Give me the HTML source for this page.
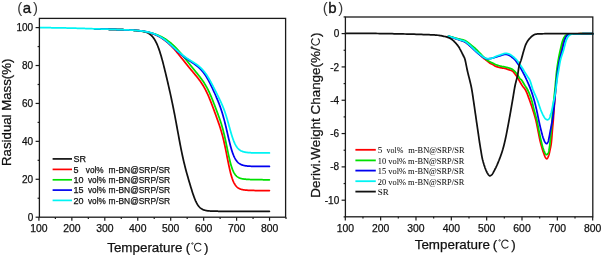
<!DOCTYPE html>
<html><head><meta charset="utf-8"><style>html,body{margin:0;padding:0;background:#fff;overflow:hidden}svg{display:block;filter:blur(0.3px)}</style></head><body>
<svg width="602" height="255" viewBox="0 0 602 255">
<style>text{font-family:"Liberation Sans",sans-serif;fill:#111;stroke:#111;stroke-width:0.25px}.tl{font-size:10px}.xt{font-size:10.4px}.lg{font-size:9px}.lr{font-family:"Liberation Serif",serif;font-size:9px;stroke-width:0.05px}.ax{font-size:13.4px}.pl{font-size:15px}.pp{fill:#3a3a3a;stroke:none}.pa{stroke-width:0.35px}</style>
<rect width="602" height="255" fill="#fff"/>
<path d="M95.01,28.82 L95.34,28.83 L95.67,28.84 L96.00,28.85 L96.32,28.86 L96.65,28.87 L96.98,28.88 L97.31,28.89 L97.64,28.91 L97.97,28.92 L98.30,28.93 L98.63,28.94 L98.96,28.95 L99.29,28.96 L99.61,28.97 L99.94,28.98 L100.27,28.99 L100.60,29.00 L100.93,29.01 L101.26,29.02 L101.59,29.03 L101.92,29.04 L102.25,29.05 L102.58,29.06 L102.91,29.07 L103.23,29.08 L103.56,29.09 L103.89,29.10 L104.22,29.11 L104.55,29.13 L104.88,29.14 L105.21,29.15 L105.54,29.16 L105.87,29.17 L106.20,29.18 L106.52,29.19 L106.85,29.20 L107.18,29.21 L107.51,29.22 L107.84,29.23 L108.17,29.24 L108.50,29.25 L108.83,29.26 L109.16,29.27 L109.49,29.28 L109.81,29.29 L110.14,29.30 L110.47,29.31 L110.80,29.32 L111.13,29.33 L111.46,29.34 L111.79,29.35 L112.12,29.36 L112.45,29.37 L112.78,29.38 L113.11,29.39 L113.43,29.40 L113.76,29.41 L114.09,29.42 L114.42,29.44 L114.75,29.45 L115.08,29.46 L115.41,29.47 L115.74,29.48 L116.07,29.49 L116.40,29.50 L116.72,29.51 L117.05,29.52 L117.38,29.53 L117.71,29.54 L118.04,29.55 L118.37,29.56 L118.70,29.58 L119.03,29.59 L119.36,29.60 L119.69,29.61 L120.02,29.62 L120.34,29.63 L120.67,29.64 L121.00,29.66 L121.33,29.67 L121.66,29.68 L121.99,29.69 L122.32,29.70 L122.65,29.72 L122.98,29.73 L123.31,29.74 L123.63,29.75 L123.96,29.77 L124.29,29.78 L124.62,29.79 L124.95,29.81 L125.28,29.82 L125.61,29.83 L125.94,29.85 L126.27,29.86 L126.60,29.88 L126.93,29.89 L127.25,29.91 L127.58,29.92 L127.91,29.94 L128.24,29.96 L128.57,29.97 L128.90,29.99 L129.23,30.01 L129.56,30.02 L129.89,30.04 L130.22,30.06 L130.54,30.08 L130.87,30.10 L131.20,30.11 L131.53,30.13 L131.86,30.15 L132.19,30.17 L132.52,30.19 L132.85,30.21 L133.18,30.23 L133.51,30.25 L133.83,30.28 L134.16,30.30 L134.49,30.32 L134.82,30.34 L135.15,30.36 L135.48,30.39 L135.81,30.41 L136.14,30.44 L136.47,30.46 L136.80,30.49 L137.13,30.52 L137.45,30.54 L137.78,30.57 L138.11,30.60 L138.44,30.63 L138.77,30.67 L139.10,30.70 L139.43,30.74 L139.76,30.77 L140.09,30.81 L140.42,30.86 L140.74,30.90 L141.07,30.94 L141.40,30.99 L141.73,31.05 L142.06,31.10 L142.39,31.16 L142.72,31.22 L143.05,31.29 L143.38,31.36 L143.71,31.43 L144.04,31.51 L144.36,31.60 L144.69,31.69 L145.02,31.78 L145.35,31.89 L145.68,32.00 L146.01,32.11 L146.34,32.24 L146.67,32.37 L147.00,32.51 L147.33,32.67 L147.65,32.83 L147.98,33.00 L148.31,33.18 L148.64,33.37 L148.97,33.58 L149.30,33.79 L149.63,34.02 L149.96,34.27 L150.29,34.52 L150.62,34.79 L150.95,35.08 L151.27,35.38 L151.60,35.70 L151.93,36.04 L152.26,36.40 L152.59,36.78 L152.92,37.18 L153.25,37.61 L153.58,38.05 L153.91,38.52 L154.24,39.02 L154.56,39.54 L154.89,40.08 L155.22,40.65 L155.55,41.26 L155.88,41.88 L156.21,42.54 L156.54,43.23 L156.87,43.95 L157.20,44.70 L157.53,45.48 L157.85,46.30 L158.18,47.14 L158.51,48.02 L158.84,48.92 L159.17,49.86 L159.50,50.83 L159.83,51.83 L160.16,52.86 L160.49,53.92 L160.82,55.01 L161.15,56.12 L161.47,57.27 L161.80,58.43 L162.13,59.62 L162.46,60.84 L162.79,62.07 L163.12,63.33 L163.45,64.60 L163.78,65.89 L164.11,67.20 L164.44,68.52 L164.76,69.85 L165.09,71.20 L165.42,72.55 L165.75,73.92 L166.08,75.30 L166.41,76.68 L166.74,78.07 L167.07,79.47 L167.40,80.88 L167.73,82.30 L168.06,83.72 L168.38,85.15 L168.71,86.59 L169.04,88.03 L169.37,89.49 L169.70,90.95 L170.03,92.43 L170.36,93.92 L170.69,95.42 L171.02,96.93 L171.35,98.46 L171.67,100.01 L172.00,101.57 L172.33,103.15 L172.66,104.74 L172.99,106.35 L173.32,107.99 L173.65,109.64 L173.98,111.30 L174.31,112.99 L174.64,114.69 L174.97,116.41 L175.29,118.15 L175.62,119.90 L175.95,121.66 L176.28,123.44 L176.61,125.22 L176.94,127.01 L177.27,128.80 L177.60,130.60 L177.93,132.39 L178.26,134.19 L178.58,135.97 L178.91,137.75 L179.24,139.52 L179.57,141.27 L179.90,143.00 L180.23,144.72 L180.56,146.41 L180.89,148.08 L181.22,149.73 L181.55,151.35 L181.87,152.94 L182.20,154.50 L182.53,156.03 L182.86,157.53 L183.19,159.00 L183.52,160.44 L183.85,161.85 L184.18,163.23 L184.51,164.58 L184.84,165.90 L185.17,167.20 L185.49,168.48 L185.82,169.73 L186.15,170.96 L186.48,172.17 L186.81,173.36 L187.14,174.54 L187.47,175.70 L187.80,176.86 L188.13,178.00 L188.46,179.13 L188.78,180.26 L189.11,181.38 L189.44,182.49 L189.77,183.60 L190.10,184.71 L190.43,185.80 L190.76,186.89 L191.09,187.97 L191.42,189.04 L191.75,190.10 L192.08,191.14 L192.40,192.17 L192.73,193.17 L193.06,194.16 L193.39,195.12 L193.72,196.06 L194.05,196.97 L194.38,197.85 L194.71,198.70 L195.04,199.51 L195.37,200.29 L195.69,201.04 L196.02,201.75 L196.35,202.42 L196.68,203.05 L197.01,203.65 L197.34,204.22 L197.67,204.75 L198.00,205.25 L198.33,205.71 L198.66,206.14 L198.99,206.55 L199.31,206.92 L199.64,207.27 L199.97,207.59 L200.30,207.89 L200.63,208.16 L200.96,208.42 L201.29,208.65 L201.62,208.87 L201.95,209.07 L202.28,209.25 L202.60,209.42 L202.93,209.57 L203.26,209.71 L203.59,209.84 L203.92,209.96 L204.25,210.07 L204.58,210.17 L204.91,210.27 L205.24,210.35 L205.57,210.43 L205.89,210.50 L206.22,210.56 L206.55,210.62 L206.88,210.68 L207.21,210.73 L207.54,210.77 L207.87,210.82 L208.20,210.85 L208.53,210.89 L208.86,210.92 L209.19,210.95 L209.51,210.98 L209.84,211.00 L210.17,211.02 L210.50,211.05 L210.83,211.06 L211.16,211.08 L211.49,211.10 L211.82,211.11 L212.15,211.13 L212.48,211.14 L212.80,211.15 L213.13,211.16 L213.46,211.17 L213.79,211.18 L214.12,211.19 L214.45,211.20 L214.78,211.20 L215.11,211.21 L215.44,211.21 L215.77,211.22 L216.10,211.22 L216.42,211.23 L216.75,211.23 L217.08,211.24 L217.41,211.24 L217.74,211.24 L218.07,211.25 L218.40,211.25 L218.73,211.25 L219.06,211.26 L219.39,211.26 L219.71,211.26 L220.04,211.26 L220.37,211.26 L220.70,211.26 L221.03,211.27 L221.36,211.27 L221.69,211.27 L222.02,211.27 L222.35,211.27 L222.68,211.27 L223.01,211.27 L223.33,211.27 L223.66,211.28 L223.99,211.28 L224.32,211.28 L224.65,211.28 L224.98,211.28 L225.31,211.28 L225.64,211.28 L225.97,211.28 L226.30,211.28 L226.62,211.28 L226.95,211.28 L227.28,211.28 L227.61,211.28 L227.94,211.28 L228.27,211.28 L228.60,211.28 L228.93,211.28 L229.26,211.28 L229.59,211.28 L229.92,211.28 L230.24,211.28 L230.57,211.28 L230.90,211.28 L231.23,211.28 L231.56,211.28 L231.89,211.28 L232.22,211.28 L232.55,211.29 L232.88,211.29 L233.21,211.29 L233.53,211.29 L233.86,211.29 L234.19,211.29 L234.52,211.29 L234.85,211.29 L235.18,211.29 L235.51,211.29 L235.84,211.29 L236.17,211.29 L236.50,211.29 L236.82,211.29 L237.15,211.29 L237.48,211.29 L237.81,211.29 L238.14,211.29 L238.47,211.29 L238.80,211.29 L239.13,211.29 L239.46,211.29 L239.79,211.29 L240.12,211.29 L240.44,211.29 L240.77,211.29 L241.10,211.29 L241.43,211.29 L241.76,211.29 L242.09,211.29 L242.42,211.29 L242.75,211.29 L243.08,211.29 L243.41,211.29 L243.73,211.29 L244.06,211.29 L244.39,211.29 L244.72,211.29 L245.05,211.29 L245.38,211.29 L245.71,211.29 L246.04,211.29 L246.37,211.29 L246.70,211.29 L247.03,211.29 L247.35,211.29 L247.68,211.29 L248.01,211.29 L248.34,211.29 L248.67,211.29 L249.00,211.29 L249.33,211.29 L249.66,211.29 L249.99,211.29 L250.32,211.29 L250.64,211.29 L250.97,211.29 L251.30,211.29 L251.63,211.29 L251.96,211.29 L252.29,211.29 L252.62,211.29 L252.95,211.29 L253.28,211.29 L253.61,211.29 L253.94,211.29 L254.26,211.29 L254.59,211.29 L254.92,211.29 L255.25,211.29 L255.58,211.29 L255.91,211.29 L256.24,211.29 L256.57,211.29 L256.90,211.29 L257.23,211.29 L257.55,211.29 L257.88,211.29 L258.21,211.29 L258.54,211.29 L258.87,211.29 L259.20,211.29 L259.53,211.29 L259.86,211.29 L260.19,211.29 L260.52,211.29 L260.84,211.29 L261.17,211.29 L261.50,211.29 L261.83,211.29 L262.16,211.29 L262.49,211.29 L262.82,211.29 L263.15,211.29 L263.48,211.29 L263.81,211.29 L264.14,211.29 L264.46,211.29 L264.79,211.29 L265.12,211.29 L265.45,211.29 L265.78,211.29 L266.11,211.29 L266.44,211.29 L266.77,211.29 L267.10,211.29 L267.43,211.29 L267.75,211.29 L268.08,211.29 L268.41,211.29 L268.74,211.29 L269.07,211.29 L269.40,211.29" fill="none" stroke="#111" stroke-width="1.75" stroke-linejoin="round" stroke-linecap="round"/>
<path d="M95.01,28.82 L95.34,28.83 L95.67,28.84 L96.00,28.85 L96.32,28.86 L96.65,28.87 L96.98,28.88 L97.31,28.89 L97.64,28.91 L97.97,28.92 L98.30,28.93 L98.63,28.94 L98.96,28.95 L99.29,28.96 L99.61,28.97 L99.94,28.98 L100.27,28.99 L100.60,29.00 L100.93,29.01 L101.26,29.02 L101.59,29.03 L101.92,29.04 L102.25,29.05 L102.58,29.06 L102.91,29.07 L103.23,29.08 L103.56,29.09 L103.89,29.10 L104.22,29.11 L104.55,29.13 L104.88,29.14 L105.21,29.15 L105.54,29.16 L105.87,29.17 L106.20,29.18 L106.52,29.19 L106.85,29.20 L107.18,29.21 L107.51,29.22 L107.84,29.23 L108.17,29.24 L108.50,29.25 L108.83,29.26 L109.16,29.27 L109.49,29.28 L109.81,29.29 L110.14,29.30 L110.47,29.31 L110.80,29.32 L111.13,29.33 L111.46,29.34 L111.79,29.35 L112.12,29.36 L112.45,29.37 L112.78,29.38 L113.11,29.39 L113.43,29.40 L113.76,29.41 L114.09,29.42 L114.42,29.44 L114.75,29.45 L115.08,29.46 L115.41,29.47 L115.74,29.48 L116.07,29.49 L116.40,29.50 L116.72,29.51 L117.05,29.52 L117.38,29.53 L117.71,29.54 L118.04,29.55 L118.37,29.56 L118.70,29.58 L119.03,29.59 L119.36,29.60 L119.69,29.61 L120.02,29.62 L120.34,29.63 L120.67,29.64 L121.00,29.66 L121.33,29.67 L121.66,29.68 L121.99,29.69 L122.32,29.70 L122.65,29.72 L122.98,29.73 L123.31,29.74 L123.63,29.75 L123.96,29.77 L124.29,29.78 L124.62,29.79 L124.95,29.81 L125.28,29.82 L125.61,29.83 L125.94,29.85 L126.27,29.86 L126.60,29.87 L126.93,29.89 L127.25,29.90 L127.58,29.92 L127.91,29.93 L128.24,29.95 L128.57,29.96 L128.90,29.98 L129.23,29.99 L129.56,30.01 L129.89,30.02 L130.22,30.04 L130.54,30.05 L130.87,30.07 L131.20,30.09 L131.53,30.11 L131.86,30.13 L132.19,30.14 L132.52,30.16 L132.85,30.18 L133.18,30.20 L133.51,30.23 L133.83,30.25 L134.16,30.27 L134.49,30.29 L134.82,30.32 L135.15,30.34 L135.48,30.37 L135.81,30.40 L136.14,30.42 L136.47,30.45 L136.80,30.48 L137.13,30.51 L137.45,30.54 L137.78,30.58 L138.11,30.61 L138.44,30.65 L138.77,30.68 L139.10,30.72 L139.43,30.76 L139.76,30.80 L140.09,30.84 L140.42,30.88 L140.74,30.93 L141.07,30.97 L141.40,31.02 L141.73,31.07 L142.06,31.12 L142.39,31.17 L142.72,31.22 L143.05,31.27 L143.38,31.33 L143.71,31.39 L144.04,31.45 L144.36,31.51 L144.69,31.57 L145.02,31.63 L145.35,31.70 L145.68,31.76 L146.01,31.83 L146.34,31.90 L146.67,31.98 L147.00,32.05 L147.33,32.13 L147.65,32.20 L147.98,32.28 L148.31,32.36 L148.64,32.45 L148.97,32.53 L149.30,32.62 L149.63,32.71 L149.96,32.81 L150.29,32.90 L150.62,33.00 L150.95,33.10 L151.27,33.20 L151.60,33.31 L151.93,33.41 L152.26,33.52 L152.59,33.64 L152.92,33.75 L153.25,33.87 L153.58,33.99 L153.91,34.11 L154.24,34.24 L154.56,34.37 L154.89,34.51 L155.22,34.64 L155.55,34.78 L155.88,34.92 L156.21,35.07 L156.54,35.22 L156.87,35.37 L157.20,35.53 L157.53,35.69 L157.85,35.85 L158.18,36.02 L158.51,36.19 L158.84,36.36 L159.17,36.54 L159.50,36.72 L159.83,36.91 L160.16,37.09 L160.49,37.29 L160.82,37.49 L161.15,37.69 L161.47,37.89 L161.80,38.10 L162.13,38.32 L162.46,38.53 L162.79,38.76 L163.12,38.98 L163.45,39.21 L163.78,39.45 L164.11,39.69 L164.44,39.93 L164.76,40.18 L165.09,40.43 L165.42,40.69 L165.75,40.95 L166.08,41.21 L166.41,41.48 L166.74,41.76 L167.07,42.04 L167.40,42.32 L167.73,42.61 L168.06,42.90 L168.38,43.20 L168.71,43.50 L169.04,43.81 L169.37,44.12 L169.70,44.43 L170.03,44.75 L170.36,45.07 L170.69,45.40 L171.02,45.73 L171.35,46.06 L171.67,46.40 L172.00,46.75 L172.33,47.09 L172.66,47.44 L172.99,47.80 L173.32,48.16 L173.65,48.52 L173.98,48.88 L174.31,49.25 L174.64,49.62 L174.97,50.00 L175.29,50.38 L175.62,50.76 L175.95,51.14 L176.28,51.53 L176.61,51.92 L176.94,52.31 L177.27,52.71 L177.60,53.10 L177.93,53.50 L178.26,53.90 L178.58,54.30 L178.91,54.71 L179.24,55.12 L179.57,55.52 L179.90,55.93 L180.23,56.34 L180.56,56.75 L180.89,57.17 L181.22,57.58 L181.55,57.99 L181.87,58.41 L182.20,58.82 L182.53,59.24 L182.86,59.65 L183.19,60.07 L183.52,60.48 L183.85,60.90 L184.18,61.31 L184.51,61.73 L184.84,62.14 L185.17,62.56 L185.49,62.97 L185.82,63.38 L186.15,63.79 L186.48,64.20 L186.81,64.61 L187.14,65.02 L187.47,65.43 L187.80,65.83 L188.13,66.24 L188.46,66.64 L188.78,67.05 L189.11,67.45 L189.44,67.85 L189.77,68.25 L190.10,68.65 L190.43,69.04 L190.76,69.44 L191.09,69.84 L191.42,70.23 L191.75,70.63 L192.08,71.02 L192.40,71.41 L192.73,71.81 L193.06,72.20 L193.39,72.59 L193.72,72.99 L194.05,73.38 L194.38,73.77 L194.71,74.17 L195.04,74.56 L195.37,74.96 L195.69,75.36 L196.02,75.76 L196.35,76.16 L196.68,76.57 L197.01,76.98 L197.34,77.39 L197.67,77.80 L198.00,78.22 L198.33,78.64 L198.66,79.07 L198.99,79.50 L199.31,79.94 L199.64,80.39 L199.97,80.84 L200.30,81.30 L200.63,81.76 L200.96,82.23 L201.29,82.71 L201.62,83.21 L201.95,83.70 L202.28,84.21 L202.60,84.73 L202.93,85.26 L203.26,85.80 L203.59,86.36 L203.92,86.92 L204.25,87.50 L204.58,88.09 L204.91,88.69 L205.24,89.30 L205.57,89.93 L205.89,90.58 L206.22,91.23 L206.55,91.90 L206.88,92.59 L207.21,93.28 L207.54,94.00 L207.87,94.72 L208.20,95.46 L208.53,96.21 L208.86,96.98 L209.19,97.76 L209.51,98.55 L209.84,99.35 L210.17,100.16 L210.50,100.99 L210.83,101.82 L211.16,102.66 L211.49,103.51 L211.82,104.37 L212.15,105.24 L212.48,106.11 L212.80,106.99 L213.13,107.87 L213.46,108.76 L213.79,109.65 L214.12,110.55 L214.45,111.44 L214.78,112.34 L215.11,113.24 L215.44,114.15 L215.77,115.05 L216.10,115.96 L216.42,116.87 L216.75,117.78 L217.08,118.70 L217.41,119.62 L217.74,120.54 L218.07,121.47 L218.40,122.41 L218.73,123.36 L219.06,124.33 L219.39,125.30 L219.71,126.29 L220.04,127.30 L220.37,128.34 L220.70,129.39 L221.03,130.47 L221.36,131.58 L221.69,132.72 L222.02,133.90 L222.35,135.11 L222.68,136.36 L223.01,137.65 L223.33,138.98 L223.66,140.35 L223.99,141.77 L224.32,143.23 L224.65,144.72 L224.98,146.26 L225.31,147.83 L225.64,149.43 L225.97,151.05 L226.30,152.70 L226.62,154.37 L226.95,156.04 L227.28,157.71 L227.61,159.38 L227.94,161.03 L228.27,162.66 L228.60,164.26 L228.93,165.83 L229.26,167.35 L229.59,168.83 L229.92,170.25 L230.24,171.62 L230.57,172.93 L230.90,174.18 L231.23,175.36 L231.56,176.48 L231.89,177.54 L232.22,178.53 L232.55,179.45 L232.88,180.32 L233.21,181.13 L233.53,181.88 L233.86,182.57 L234.19,183.22 L234.52,183.81 L234.85,184.36 L235.18,184.87 L235.51,185.33 L235.84,185.76 L236.17,186.15 L236.50,186.51 L236.82,186.84 L237.15,187.14 L237.48,187.42 L237.81,187.68 L238.14,187.91 L238.47,188.12 L238.80,188.31 L239.13,188.49 L239.46,188.65 L239.79,188.80 L240.12,188.94 L240.44,189.07 L240.77,189.18 L241.10,189.28 L241.43,189.38 L241.76,189.47 L242.09,189.55 L242.42,189.62 L242.75,189.69 L243.08,189.75 L243.41,189.81 L243.73,189.87 L244.06,189.91 L244.39,189.96 L244.72,190.00 L245.05,190.04 L245.38,190.08 L245.71,190.11 L246.04,190.14 L246.37,190.17 L246.70,190.19 L247.03,190.22 L247.35,190.24 L247.68,190.26 L248.01,190.28 L248.34,190.30 L248.67,190.32 L249.00,190.33 L249.33,190.35 L249.66,190.36 L249.99,190.37 L250.32,190.39 L250.64,190.40 L250.97,190.41 L251.30,190.42 L251.63,190.43 L251.96,190.44 L252.29,190.45 L252.62,190.46 L252.95,190.46 L253.28,190.47 L253.61,190.48 L253.94,190.48 L254.26,190.49 L254.59,190.50 L254.92,190.50 L255.25,190.51 L255.58,190.51 L255.91,190.52 L256.24,190.52 L256.57,190.53 L256.90,190.53 L257.23,190.53 L257.55,190.54 L257.88,190.54 L258.21,190.54 L258.54,190.55 L258.87,190.55 L259.20,190.55 L259.53,190.56 L259.86,190.56 L260.19,190.56 L260.52,190.56 L260.84,190.57 L261.17,190.57 L261.50,190.57 L261.83,190.57 L262.16,190.58 L262.49,190.58 L262.82,190.58 L263.15,190.58 L263.48,190.58 L263.81,190.59 L264.14,190.59 L264.46,190.59 L264.79,190.59 L265.12,190.59 L265.45,190.59 L265.78,190.60 L266.11,190.60 L266.44,190.60 L266.77,190.60 L267.10,190.60 L267.43,190.60 L267.75,190.60 L268.08,190.60 L268.41,190.61 L268.74,190.61 L269.07,190.61 L269.40,190.61" fill="none" stroke="#ff0000" stroke-width="1.75" stroke-linejoin="round" stroke-linecap="round"/>
<path d="M95.01,28.82 L95.34,28.83 L95.67,28.84 L96.00,28.85 L96.32,28.86 L96.65,28.87 L96.98,28.88 L97.31,28.89 L97.64,28.91 L97.97,28.92 L98.30,28.93 L98.63,28.94 L98.96,28.95 L99.29,28.96 L99.61,28.97 L99.94,28.98 L100.27,28.99 L100.60,29.00 L100.93,29.01 L101.26,29.02 L101.59,29.03 L101.92,29.04 L102.25,29.05 L102.58,29.06 L102.91,29.07 L103.23,29.08 L103.56,29.09 L103.89,29.10 L104.22,29.11 L104.55,29.13 L104.88,29.14 L105.21,29.15 L105.54,29.16 L105.87,29.17 L106.20,29.18 L106.52,29.19 L106.85,29.20 L107.18,29.21 L107.51,29.22 L107.84,29.23 L108.17,29.24 L108.50,29.25 L108.83,29.26 L109.16,29.27 L109.49,29.28 L109.81,29.29 L110.14,29.30 L110.47,29.31 L110.80,29.32 L111.13,29.33 L111.46,29.34 L111.79,29.35 L112.12,29.36 L112.45,29.37 L112.78,29.38 L113.11,29.39 L113.43,29.40 L113.76,29.41 L114.09,29.42 L114.42,29.44 L114.75,29.45 L115.08,29.46 L115.41,29.47 L115.74,29.48 L116.07,29.49 L116.40,29.50 L116.72,29.51 L117.05,29.52 L117.38,29.53 L117.71,29.54 L118.04,29.55 L118.37,29.56 L118.70,29.58 L119.03,29.59 L119.36,29.60 L119.69,29.61 L120.02,29.62 L120.34,29.63 L120.67,29.64 L121.00,29.66 L121.33,29.67 L121.66,29.68 L121.99,29.69 L122.32,29.70 L122.65,29.72 L122.98,29.73 L123.31,29.74 L123.63,29.75 L123.96,29.77 L124.29,29.78 L124.62,29.79 L124.95,29.81 L125.28,29.82 L125.61,29.83 L125.94,29.85 L126.27,29.86 L126.60,29.88 L126.93,29.89 L127.25,29.91 L127.58,29.92 L127.91,29.94 L128.24,29.96 L128.57,29.97 L128.90,29.99 L129.23,30.01 L129.56,30.03 L129.89,30.05 L130.22,30.07 L130.54,30.09 L130.87,30.11 L131.20,30.13 L131.53,30.15 L131.86,30.17 L132.19,30.20 L132.52,30.22 L132.85,30.24 L133.18,30.27 L133.51,30.29 L133.83,30.32 L134.16,30.35 L134.49,30.38 L134.82,30.41 L135.15,30.44 L135.48,30.47 L135.81,30.50 L136.14,30.53 L136.47,30.56 L136.80,30.60 L137.13,30.63 L137.45,30.67 L137.78,30.70 L138.11,30.74 L138.44,30.78 L138.77,30.82 L139.10,30.86 L139.43,30.90 L139.76,30.94 L140.09,30.98 L140.42,31.03 L140.74,31.07 L141.07,31.12 L141.40,31.16 L141.73,31.21 L142.06,31.26 L142.39,31.31 L142.72,31.36 L143.05,31.41 L143.38,31.46 L143.71,31.51 L144.04,31.57 L144.36,31.62 L144.69,31.68 L145.02,31.73 L145.35,31.79 L145.68,31.85 L146.01,31.91 L146.34,31.97 L146.67,32.03 L147.00,32.09 L147.33,32.16 L147.65,32.22 L147.98,32.29 L148.31,32.36 L148.64,32.43 L148.97,32.50 L149.30,32.57 L149.63,32.64 L149.96,32.72 L150.29,32.79 L150.62,32.87 L150.95,32.95 L151.27,33.04 L151.60,33.12 L151.93,33.21 L152.26,33.30 L152.59,33.39 L152.92,33.48 L153.25,33.58 L153.58,33.67 L153.91,33.77 L154.24,33.88 L154.56,33.98 L154.89,34.09 L155.22,34.20 L155.55,34.31 L155.88,34.42 L156.21,34.54 L156.54,34.66 L156.87,34.78 L157.20,34.90 L157.53,35.03 L157.85,35.16 L158.18,35.29 L158.51,35.43 L158.84,35.57 L159.17,35.71 L159.50,35.85 L159.83,36.00 L160.16,36.15 L160.49,36.31 L160.82,36.46 L161.15,36.63 L161.47,36.79 L161.80,36.96 L162.13,37.13 L162.46,37.30 L162.79,37.48 L163.12,37.66 L163.45,37.85 L163.78,38.04 L164.11,38.23 L164.44,38.43 L164.76,38.63 L165.09,38.83 L165.42,39.04 L165.75,39.25 L166.08,39.47 L166.41,39.69 L166.74,39.91 L167.07,40.14 L167.40,40.37 L167.73,40.61 L168.06,40.85 L168.38,41.10 L168.71,41.34 L169.04,41.60 L169.37,41.86 L169.70,42.12 L170.03,42.38 L170.36,42.65 L170.69,42.93 L171.02,43.21 L171.35,43.49 L171.67,43.78 L172.00,44.07 L172.33,44.36 L172.66,44.66 L172.99,44.96 L173.32,45.27 L173.65,45.58 L173.98,45.90 L174.31,46.22 L174.64,46.54 L174.97,46.87 L175.29,47.20 L175.62,47.54 L175.95,47.88 L176.28,48.22 L176.61,48.57 L176.94,48.92 L177.27,49.27 L177.60,49.63 L177.93,49.99 L178.26,50.36 L178.58,50.72 L178.91,51.09 L179.24,51.47 L179.57,51.84 L179.90,52.22 L180.23,52.60 L180.56,52.99 L180.89,53.38 L181.22,53.77 L181.55,54.16 L181.87,54.55 L182.20,54.95 L182.53,55.35 L182.86,55.74 L183.19,56.15 L183.52,56.55 L183.85,56.95 L184.18,57.36 L184.51,57.77 L184.84,58.17 L185.17,58.58 L185.49,58.99 L185.82,59.40 L186.15,59.82 L186.48,60.23 L186.81,60.64 L187.14,61.05 L187.47,61.47 L187.80,61.88 L188.13,62.29 L188.46,62.70 L188.78,63.12 L189.11,63.53 L189.44,63.94 L189.77,64.35 L190.10,64.77 L190.43,65.18 L190.76,65.59 L191.09,66.00 L191.42,66.41 L191.75,66.82 L192.08,67.22 L192.40,67.63 L192.73,68.04 L193.06,68.45 L193.39,68.85 L193.72,69.26 L194.05,69.66 L194.38,70.07 L194.71,70.47 L195.04,70.88 L195.37,71.28 L195.69,71.68 L196.02,72.09 L196.35,72.49 L196.68,72.90 L197.01,73.31 L197.34,73.71 L197.67,74.12 L198.00,74.53 L198.33,74.95 L198.66,75.36 L198.99,75.78 L199.31,76.20 L199.64,76.62 L199.97,77.05 L200.30,77.48 L200.63,77.91 L200.96,78.35 L201.29,78.79 L201.62,79.24 L201.95,79.70 L202.28,80.16 L202.60,80.63 L202.93,81.11 L203.26,81.59 L203.59,82.08 L203.92,82.59 L204.25,83.10 L204.58,83.62 L204.91,84.15 L205.24,84.69 L205.57,85.25 L205.89,85.81 L206.22,86.39 L206.55,86.98 L206.88,87.58 L207.21,88.20 L207.54,88.83 L207.87,89.47 L208.20,90.13 L208.53,90.80 L208.86,91.49 L209.19,92.19 L209.51,92.90 L209.84,93.62 L210.17,94.36 L210.50,95.11 L210.83,95.88 L211.16,96.65 L211.49,97.44 L211.82,98.24 L212.15,99.04 L212.48,99.86 L212.80,100.68 L213.13,101.52 L213.46,102.36 L213.79,103.20 L214.12,104.05 L214.45,104.91 L214.78,105.77 L215.11,106.63 L215.44,107.50 L215.77,108.37 L216.10,109.24 L216.42,110.11 L216.75,110.99 L217.08,111.87 L217.41,112.75 L217.74,113.64 L218.07,114.53 L218.40,115.43 L218.73,116.34 L219.06,117.25 L219.39,118.18 L219.71,119.12 L220.04,120.08 L220.37,121.05 L220.70,122.05 L221.03,123.07 L221.36,124.11 L221.69,125.18 L222.02,126.29 L222.35,127.42 L222.68,128.60 L223.01,129.81 L223.33,131.07 L223.66,132.36 L223.99,133.70 L224.32,135.07 L224.65,136.49 L224.98,137.95 L225.31,139.44 L225.64,140.97 L225.97,142.52 L226.30,144.10 L226.62,145.69 L226.95,147.30 L227.28,148.90 L227.61,150.50 L227.94,152.09 L228.27,153.65 L228.60,155.19 L228.93,156.69 L229.26,158.16 L229.59,159.57 L229.92,160.93 L230.24,162.23 L230.57,163.48 L230.90,164.66 L231.23,165.78 L231.56,166.83 L231.89,167.82 L232.22,168.75 L232.55,169.62 L232.88,170.42 L233.21,171.17 L233.53,171.86 L233.86,172.50 L234.19,173.09 L234.52,173.63 L234.85,174.13 L235.18,174.59 L235.51,175.01 L235.84,175.39 L236.17,175.74 L236.50,176.07 L236.82,176.36 L237.15,176.63 L237.48,176.88 L237.81,177.10 L238.14,177.30 L238.47,177.49 L238.80,177.66 L239.13,177.82 L239.46,177.96 L239.79,178.09 L240.12,178.21 L240.44,178.32 L240.77,178.42 L241.10,178.51 L241.43,178.60 L241.76,178.67 L242.09,178.74 L242.42,178.81 L242.75,178.87 L243.08,178.93 L243.41,178.98 L243.73,179.02 L244.06,179.07 L244.39,179.11 L244.72,179.15 L245.05,179.18 L245.38,179.21 L245.71,179.24 L246.04,179.27 L246.37,179.30 L246.70,179.32 L247.03,179.35 L247.35,179.37 L247.68,179.39 L248.01,179.41 L248.34,179.42 L248.67,179.44 L249.00,179.46 L249.33,179.47 L249.66,179.49 L249.99,179.50 L250.32,179.51 L250.64,179.52 L250.97,179.54 L251.30,179.55 L251.63,179.56 L251.96,179.57 L252.29,179.58 L252.62,179.59 L252.95,179.60 L253.28,179.60 L253.61,179.61 L253.94,179.62 L254.26,179.63 L254.59,179.63 L254.92,179.64 L255.25,179.65 L255.58,179.65 L255.91,179.66 L256.24,179.66 L256.57,179.67 L256.90,179.68 L257.23,179.68 L257.55,179.69 L257.88,179.69 L258.21,179.70 L258.54,179.70 L258.87,179.70 L259.20,179.71 L259.53,179.71 L259.86,179.72 L260.19,179.72 L260.52,179.72 L260.84,179.73 L261.17,179.73 L261.50,179.74 L261.83,179.74 L262.16,179.74 L262.49,179.74 L262.82,179.75 L263.15,179.75 L263.48,179.75 L263.81,179.76 L264.14,179.76 L264.46,179.76 L264.79,179.76 L265.12,179.77 L265.45,179.77 L265.78,179.77 L266.11,179.77 L266.44,179.78 L266.77,179.78 L267.10,179.78 L267.43,179.78 L267.75,179.78 L268.08,179.79 L268.41,179.79 L268.74,179.79 L269.07,179.79 L269.40,179.79" fill="none" stroke="#00e000" stroke-width="1.75" stroke-linejoin="round" stroke-linecap="round"/>
<path d="M95.01,28.82 L95.34,28.83 L95.67,28.84 L96.00,28.85 L96.32,28.86 L96.65,28.87 L96.98,28.88 L97.31,28.89 L97.64,28.91 L97.97,28.92 L98.30,28.93 L98.63,28.94 L98.96,28.95 L99.29,28.96 L99.61,28.97 L99.94,28.98 L100.27,28.99 L100.60,29.00 L100.93,29.01 L101.26,29.02 L101.59,29.03 L101.92,29.04 L102.25,29.05 L102.58,29.06 L102.91,29.07 L103.23,29.08 L103.56,29.09 L103.89,29.10 L104.22,29.11 L104.55,29.13 L104.88,29.14 L105.21,29.15 L105.54,29.16 L105.87,29.17 L106.20,29.18 L106.52,29.19 L106.85,29.20 L107.18,29.21 L107.51,29.22 L107.84,29.23 L108.17,29.24 L108.50,29.25 L108.83,29.26 L109.16,29.27 L109.49,29.28 L109.81,29.29 L110.14,29.30 L110.47,29.31 L110.80,29.32 L111.13,29.33 L111.46,29.34 L111.79,29.35 L112.12,29.36 L112.45,29.37 L112.78,29.38 L113.11,29.39 L113.43,29.40 L113.76,29.41 L114.09,29.42 L114.42,29.44 L114.75,29.45 L115.08,29.46 L115.41,29.47 L115.74,29.48 L116.07,29.49 L116.40,29.50 L116.72,29.51 L117.05,29.52 L117.38,29.53 L117.71,29.54 L118.04,29.55 L118.37,29.56 L118.70,29.58 L119.03,29.59 L119.36,29.60 L119.69,29.61 L120.02,29.62 L120.34,29.63 L120.67,29.64 L121.00,29.66 L121.33,29.67 L121.66,29.68 L121.99,29.69 L122.32,29.70 L122.65,29.72 L122.98,29.73 L123.31,29.74 L123.63,29.75 L123.96,29.77 L124.29,29.78 L124.62,29.79 L124.95,29.81 L125.28,29.82 L125.61,29.83 L125.94,29.85 L126.27,29.86 L126.60,29.88 L126.93,29.89 L127.25,29.90 L127.58,29.92 L127.91,29.94 L128.24,29.95 L128.57,29.97 L128.90,29.98 L129.23,30.00 L129.56,30.02 L129.89,30.03 L130.22,30.05 L130.54,30.07 L130.87,30.09 L131.20,30.10 L131.53,30.12 L131.86,30.14 L132.19,30.16 L132.52,30.18 L132.85,30.20 L133.18,30.23 L133.51,30.25 L133.83,30.27 L134.16,30.29 L134.49,30.32 L134.82,30.34 L135.15,30.36 L135.48,30.39 L135.81,30.42 L136.14,30.44 L136.47,30.47 L136.80,30.50 L137.13,30.53 L137.45,30.56 L137.78,30.59 L138.11,30.62 L138.44,30.65 L138.77,30.69 L139.10,30.72 L139.43,30.76 L139.76,30.79 L140.09,30.83 L140.42,30.87 L140.74,30.91 L141.07,30.95 L141.40,30.99 L141.73,31.04 L142.06,31.08 L142.39,31.13 L142.72,31.18 L143.05,31.23 L143.38,31.28 L143.71,31.33 L144.04,31.38 L144.36,31.44 L144.69,31.49 L145.02,31.55 L145.35,31.61 L145.68,31.67 L146.01,31.73 L146.34,31.80 L146.67,31.87 L147.00,31.93 L147.33,32.00 L147.65,32.08 L147.98,32.15 L148.31,32.23 L148.64,32.31 L148.97,32.39 L149.30,32.47 L149.63,32.56 L149.96,32.65 L150.29,32.74 L150.62,32.83 L150.95,32.93 L151.27,33.03 L151.60,33.13 L151.93,33.24 L152.26,33.35 L152.59,33.46 L152.92,33.57 L153.25,33.69 L153.58,33.81 L153.91,33.93 L154.24,34.06 L154.56,34.19 L154.89,34.32 L155.22,34.46 L155.55,34.60 L155.88,34.74 L156.21,34.89 L156.54,35.04 L156.87,35.20 L157.20,35.35 L157.53,35.51 L157.85,35.68 L158.18,35.85 L158.51,36.02 L158.84,36.20 L159.17,36.38 L159.50,36.56 L159.83,36.75 L160.16,36.94 L160.49,37.14 L160.82,37.34 L161.15,37.55 L161.47,37.75 L161.80,37.97 L162.13,38.18 L162.46,38.40 L162.79,38.63 L163.12,38.85 L163.45,39.09 L163.78,39.32 L164.11,39.56 L164.44,39.80 L164.76,40.05 L165.09,40.30 L165.42,40.55 L165.75,40.81 L166.08,41.07 L166.41,41.34 L166.74,41.60 L167.07,41.87 L167.40,42.15 L167.73,42.42 L168.06,42.70 L168.38,42.99 L168.71,43.27 L169.04,43.56 L169.37,43.85 L169.70,44.14 L170.03,44.43 L170.36,44.73 L170.69,45.03 L171.02,45.32 L171.35,45.62 L171.67,45.93 L172.00,46.23 L172.33,46.53 L172.66,46.84 L172.99,47.14 L173.32,47.45 L173.65,47.76 L173.98,48.06 L174.31,48.37 L174.64,48.68 L174.97,48.98 L175.29,49.29 L175.62,49.59 L175.95,49.90 L176.28,50.20 L176.61,50.51 L176.94,50.81 L177.27,51.11 L177.60,51.41 L177.93,51.70 L178.26,52.00 L178.58,52.29 L178.91,52.58 L179.24,52.87 L179.57,53.16 L179.90,53.45 L180.23,53.73 L180.56,54.01 L180.89,54.29 L181.22,54.57 L181.55,54.84 L181.87,55.11 L182.20,55.38 L182.53,55.65 L182.86,55.91 L183.19,56.17 L183.52,56.43 L183.85,56.69 L184.18,56.94 L184.51,57.19 L184.84,57.44 L185.17,57.69 L185.49,57.93 L185.82,58.17 L186.15,58.41 L186.48,58.65 L186.81,58.88 L187.14,59.12 L187.47,59.35 L187.80,59.58 L188.13,59.81 L188.46,60.03 L188.78,60.26 L189.11,60.48 L189.44,60.70 L189.77,60.92 L190.10,61.15 L190.43,61.37 L190.76,61.59 L191.09,61.81 L191.42,62.03 L191.75,62.25 L192.08,62.47 L192.40,62.69 L192.73,62.91 L193.06,63.13 L193.39,63.36 L193.72,63.59 L194.05,63.82 L194.38,64.05 L194.71,64.28 L195.04,64.52 L195.37,64.76 L195.69,65.00 L196.02,65.25 L196.35,65.50 L196.68,65.76 L197.01,66.02 L197.34,66.28 L197.67,66.55 L198.00,66.83 L198.33,67.11 L198.66,67.40 L198.99,67.70 L199.31,68.00 L199.64,68.31 L199.97,68.63 L200.30,68.96 L200.63,69.30 L200.96,69.64 L201.29,70.00 L201.62,70.36 L201.95,70.73 L202.28,71.11 L202.60,71.51 L202.93,71.91 L203.26,72.33 L203.59,72.75 L203.92,73.19 L204.25,73.64 L204.58,74.10 L204.91,74.57 L205.24,75.05 L205.57,75.55 L205.89,76.06 L206.22,76.57 L206.55,77.11 L206.88,77.65 L207.21,78.20 L207.54,78.77 L207.87,79.34 L208.20,79.93 L208.53,80.53 L208.86,81.14 L209.19,81.76 L209.51,82.39 L209.84,83.03 L210.17,83.67 L210.50,84.33 L210.83,85.00 L211.16,85.67 L211.49,86.35 L211.82,87.04 L212.15,87.73 L212.48,88.43 L212.80,89.14 L213.13,89.85 L213.46,90.57 L213.79,91.30 L214.12,92.03 L214.45,92.76 L214.78,93.50 L215.11,94.25 L215.44,95.00 L215.77,95.76 L216.10,96.52 L216.42,97.29 L216.75,98.06 L217.08,98.85 L217.41,99.64 L217.74,100.44 L218.07,101.25 L218.40,102.07 L218.73,102.91 L219.06,103.76 L219.39,104.62 L219.71,105.50 L220.04,106.40 L220.37,107.32 L220.70,108.26 L221.03,109.22 L221.36,110.21 L221.69,111.22 L222.02,112.26 L222.35,113.33 L222.68,114.43 L223.01,115.55 L223.33,116.71 L223.66,117.90 L223.99,119.12 L224.32,120.37 L224.65,121.65 L224.98,122.96 L225.31,124.29 L225.64,125.64 L225.97,127.02 L226.30,128.42 L226.62,129.82 L226.95,131.24 L227.28,132.67 L227.61,134.09 L227.94,135.51 L228.27,136.93 L228.60,138.33 L228.93,139.71 L229.26,141.07 L229.59,142.40 L229.92,143.70 L230.24,144.97 L230.57,146.20 L230.90,147.39 L231.23,148.54 L231.56,149.64 L231.89,150.70 L232.22,151.71 L232.55,152.67 L232.88,153.59 L233.21,154.45 L233.53,155.27 L233.86,156.04 L234.19,156.77 L234.52,157.46 L234.85,158.10 L235.18,158.70 L235.51,159.26 L235.84,159.79 L236.17,160.28 L236.50,160.74 L236.82,161.16 L237.15,161.56 L237.48,161.92 L237.81,162.26 L238.14,162.58 L238.47,162.87 L238.80,163.14 L239.13,163.39 L239.46,163.62 L239.79,163.84 L240.12,164.03 L240.44,164.22 L240.77,164.39 L241.10,164.54 L241.43,164.69 L241.76,164.82 L242.09,164.94 L242.42,165.05 L242.75,165.16 L243.08,165.26 L243.41,165.35 L243.73,165.43 L244.06,165.50 L244.39,165.57 L244.72,165.64 L245.05,165.70 L245.38,165.76 L245.71,165.81 L246.04,165.85 L246.37,165.90 L246.70,165.94 L247.03,165.98 L247.35,166.01 L247.68,166.04 L248.01,166.07 L248.34,166.10 L248.67,166.13 L249.00,166.15 L249.33,166.17 L249.66,166.19 L249.99,166.21 L250.32,166.23 L250.64,166.25 L250.97,166.26 L251.30,166.27 L251.63,166.29 L251.96,166.30 L252.29,166.31 L252.62,166.32 L252.95,166.33 L253.28,166.34 L253.61,166.35 L253.94,166.36 L254.26,166.37 L254.59,166.37 L254.92,166.38 L255.25,166.38 L255.58,166.39 L255.91,166.40 L256.24,166.40 L256.57,166.41 L256.90,166.41 L257.23,166.41 L257.55,166.42 L257.88,166.42 L258.21,166.42 L258.54,166.43 L258.87,166.43 L259.20,166.43 L259.53,166.44 L259.86,166.44 L260.19,166.44 L260.52,166.44 L260.84,166.44 L261.17,166.45 L261.50,166.45 L261.83,166.45 L262.16,166.45 L262.49,166.45 L262.82,166.45 L263.15,166.46 L263.48,166.46 L263.81,166.46 L264.14,166.46 L264.46,166.46 L264.79,166.46 L265.12,166.46 L265.45,166.46 L265.78,166.46 L266.11,166.46 L266.44,166.47 L266.77,166.47 L267.10,166.47 L267.43,166.47 L267.75,166.47 L268.08,166.47 L268.41,166.47 L268.74,166.47 L269.07,166.47 L269.40,166.47" fill="none" stroke="#0000f0" stroke-width="1.75" stroke-linejoin="round" stroke-linecap="round"/>
<path d="M39.40,27.63 L39.73,27.64 L40.06,27.64 L40.39,27.64 L40.72,27.64 L41.05,27.65 L41.37,27.65 L41.70,27.65 L42.03,27.65 L42.36,27.66 L42.69,27.66 L43.02,27.66 L43.35,27.67 L43.68,27.67 L44.01,27.67 L44.34,27.67 L44.66,27.68 L44.99,27.68 L45.32,27.68 L45.65,27.69 L45.98,27.69 L46.31,27.69 L46.64,27.70 L46.97,27.70 L47.30,27.70 L47.63,27.71 L47.96,27.71 L48.28,27.71 L48.61,27.72 L48.94,27.72 L49.27,27.72 L49.60,27.73 L49.93,27.73 L50.26,27.74 L50.59,27.74 L50.92,27.74 L51.25,27.75 L51.57,27.75 L51.90,27.76 L52.23,27.76 L52.56,27.77 L52.89,27.77 L53.22,27.77 L53.55,27.78 L53.88,27.78 L54.21,27.79 L54.54,27.79 L54.86,27.80 L55.19,27.80 L55.52,27.81 L55.85,27.81 L56.18,27.82 L56.51,27.82 L56.84,27.83 L57.17,27.83 L57.50,27.84 L57.83,27.84 L58.16,27.85 L58.48,27.85 L58.81,27.86 L59.14,27.86 L59.47,27.87 L59.80,27.87 L60.13,27.88 L60.46,27.89 L60.79,27.89 L61.12,27.90 L61.45,27.90 L61.77,27.91 L62.10,27.92 L62.43,27.92 L62.76,27.93 L63.09,27.93 L63.42,27.94 L63.75,27.95 L64.08,27.95 L64.41,27.96 L64.74,27.97 L65.07,27.97 L65.39,27.98 L65.72,27.99 L66.05,27.99 L66.38,28.00 L66.71,28.01 L67.04,28.02 L67.37,28.02 L67.70,28.03 L68.03,28.04 L68.36,28.04 L68.68,28.05 L69.01,28.06 L69.34,28.07 L69.67,28.07 L70.00,28.08 L70.33,28.09 L70.66,28.10 L70.99,28.11 L71.32,28.11 L71.65,28.12 L71.98,28.13 L72.30,28.14 L72.63,28.15 L72.96,28.16 L73.29,28.16 L73.62,28.17 L73.95,28.18 L74.28,28.19 L74.61,28.20 L74.94,28.21 L75.27,28.22 L75.59,28.22 L75.92,28.23 L76.25,28.24 L76.58,28.25 L76.91,28.26 L77.24,28.27 L77.57,28.28 L77.90,28.29 L78.23,28.30 L78.56,28.31 L78.88,28.32 L79.21,28.33 L79.54,28.34 L79.87,28.35 L80.20,28.36 L80.53,28.36 L80.86,28.37 L81.19,28.38 L81.52,28.39 L81.85,28.40 L82.18,28.41 L82.50,28.42 L82.83,28.43 L83.16,28.44 L83.49,28.45 L83.82,28.46 L84.15,28.47 L84.48,28.48 L84.81,28.49 L85.14,28.50 L85.47,28.52 L85.79,28.53 L86.12,28.54 L86.45,28.55 L86.78,28.56 L87.11,28.57 L87.44,28.58 L87.77,28.59 L88.10,28.60 L88.43,28.61 L88.76,28.62 L89.09,28.63 L89.41,28.64 L89.74,28.65 L90.07,28.66 L90.40,28.67 L90.73,28.68 L91.06,28.69 L91.39,28.70 L91.72,28.71 L92.05,28.72 L92.38,28.74 L92.70,28.75 L93.03,28.76 L93.36,28.77 L93.69,28.78 L94.02,28.79 L94.35,28.80 L94.68,28.81 L95.01,28.82 L95.34,28.83 L95.67,28.84 L96.00,28.85 L96.32,28.86 L96.65,28.87 L96.98,28.88 L97.31,28.89 L97.64,28.91 L97.97,28.92 L98.30,28.93 L98.63,28.94 L98.96,28.95 L99.29,28.96 L99.61,28.97 L99.94,28.98 L100.27,28.99 L100.60,29.00 L100.93,29.01 L101.26,29.02 L101.59,29.03 L101.92,29.04 L102.25,29.05 L102.58,29.06 L102.91,29.07 L103.23,29.08 L103.56,29.09 L103.89,29.10 L104.22,29.11 L104.55,29.13 L104.88,29.14 L105.21,29.15 L105.54,29.16 L105.87,29.17 L106.20,29.18 L106.52,29.19 L106.85,29.20 L107.18,29.21 L107.51,29.22 L107.84,29.23 L108.17,29.24 L108.50,29.25 L108.83,29.26 L109.16,29.27 L109.49,29.28 L109.81,29.29 L110.14,29.30 L110.47,29.31 L110.80,29.32 L111.13,29.33 L111.46,29.34 L111.79,29.35 L112.12,29.36 L112.45,29.37 L112.78,29.38 L113.11,29.39 L113.43,29.40 L113.76,29.41 L114.09,29.42 L114.42,29.44 L114.75,29.45 L115.08,29.46 L115.41,29.47 L115.74,29.48 L116.07,29.49 L116.40,29.50 L116.72,29.51 L117.05,29.52 L117.38,29.53 L117.71,29.54 L118.04,29.55 L118.37,29.56 L118.70,29.58 L119.03,29.59 L119.36,29.60 L119.69,29.61 L120.02,29.62 L120.34,29.63 L120.67,29.64 L121.00,29.66 L121.33,29.67 L121.66,29.68 L121.99,29.69 L122.32,29.70 L122.65,29.72 L122.98,29.73 L123.31,29.74 L123.63,29.75 L123.96,29.77 L124.29,29.78 L124.62,29.79 L124.95,29.81 L125.28,29.82 L125.61,29.83 L125.94,29.85 L126.27,29.86 L126.60,29.88 L126.93,29.89 L127.25,29.90 L127.58,29.92 L127.91,29.93 L128.24,29.95 L128.57,29.97 L128.90,29.98 L129.23,30.00 L129.56,30.01 L129.89,30.03 L130.22,30.05 L130.54,30.07 L130.87,30.08 L131.20,30.10 L131.53,30.12 L131.86,30.14 L132.19,30.16 L132.52,30.18 L132.85,30.20 L133.18,30.22 L133.51,30.24 L133.83,30.26 L134.16,30.28 L134.49,30.31 L134.82,30.33 L135.15,30.35 L135.48,30.38 L135.81,30.40 L136.14,30.43 L136.47,30.45 L136.80,30.48 L137.13,30.51 L137.45,30.54 L137.78,30.57 L138.11,30.60 L138.44,30.63 L138.77,30.66 L139.10,30.69 L139.43,30.72 L139.76,30.76 L140.09,30.79 L140.42,30.83 L140.74,30.87 L141.07,30.91 L141.40,30.95 L141.73,30.99 L142.06,31.03 L142.39,31.07 L142.72,31.12 L143.05,31.17 L143.38,31.21 L143.71,31.26 L144.04,31.31 L144.36,31.36 L144.69,31.42 L145.02,31.47 L145.35,31.53 L145.68,31.59 L146.01,31.65 L146.34,31.71 L146.67,31.77 L147.00,31.84 L147.33,31.90 L147.65,31.97 L147.98,32.05 L148.31,32.12 L148.64,32.20 L148.97,32.27 L149.30,32.36 L149.63,32.44 L149.96,32.53 L150.29,32.61 L150.62,32.71 L150.95,32.80 L151.27,32.90 L151.60,33.00 L151.93,33.10 L152.26,33.21 L152.59,33.31 L152.92,33.43 L153.25,33.54 L153.58,33.66 L153.91,33.78 L154.24,33.90 L154.56,34.03 L154.89,34.16 L155.22,34.29 L155.55,34.43 L155.88,34.57 L156.21,34.72 L156.54,34.86 L156.87,35.01 L157.20,35.17 L157.53,35.33 L157.85,35.49 L158.18,35.66 L158.51,35.83 L158.84,36.00 L159.17,36.18 L159.50,36.36 L159.83,36.55 L160.16,36.74 L160.49,36.93 L160.82,37.13 L161.15,37.33 L161.47,37.53 L161.80,37.74 L162.13,37.96 L162.46,38.17 L162.79,38.39 L163.12,38.62 L163.45,38.85 L163.78,39.08 L164.11,39.32 L164.44,39.56 L164.76,39.80 L165.09,40.05 L165.42,40.30 L165.75,40.55 L166.08,40.81 L166.41,41.07 L166.74,41.33 L167.07,41.60 L167.40,41.87 L167.73,42.15 L168.06,42.42 L168.38,42.70 L168.71,42.98 L169.04,43.26 L169.37,43.55 L169.70,43.84 L170.03,44.13 L170.36,44.42 L170.69,44.71 L171.02,45.00 L171.35,45.30 L171.67,45.60 L172.00,45.90 L172.33,46.19 L172.66,46.49 L172.99,46.79 L173.32,47.09 L173.65,47.39 L173.98,47.70 L174.31,48.00 L174.64,48.30 L174.97,48.60 L175.29,48.89 L175.62,49.19 L175.95,49.49 L176.28,49.79 L176.61,50.08 L176.94,50.38 L177.27,50.67 L177.60,50.96 L177.93,51.25 L178.26,51.54 L178.58,51.82 L178.91,52.10 L179.24,52.38 L179.57,52.66 L179.90,52.94 L180.23,53.21 L180.56,53.48 L180.89,53.75 L181.22,54.02 L181.55,54.28 L181.87,54.54 L182.20,54.80 L182.53,55.06 L182.86,55.31 L183.19,55.56 L183.52,55.81 L183.85,56.05 L184.18,56.29 L184.51,56.53 L184.84,56.77 L185.17,57.00 L185.49,57.24 L185.82,57.46 L186.15,57.69 L186.48,57.92 L186.81,58.14 L187.14,58.36 L187.47,58.58 L187.80,58.79 L188.13,59.01 L188.46,59.22 L188.78,59.43 L189.11,59.64 L189.44,59.85 L189.77,60.05 L190.10,60.26 L190.43,60.47 L190.76,60.67 L191.09,60.88 L191.42,61.08 L191.75,61.29 L192.08,61.49 L192.40,61.70 L192.73,61.90 L193.06,62.11 L193.39,62.32 L193.72,62.53 L194.05,62.74 L194.38,62.95 L194.71,63.17 L195.04,63.38 L195.37,63.60 L195.69,63.83 L196.02,64.05 L196.35,64.28 L196.68,64.52 L197.01,64.76 L197.34,65.00 L197.67,65.25 L198.00,65.50 L198.33,65.76 L198.66,66.02 L198.99,66.29 L199.31,66.57 L199.64,66.85 L199.97,67.14 L200.30,67.44 L200.63,67.74 L200.96,68.05 L201.29,68.38 L201.62,68.71 L201.95,69.04 L202.28,69.39 L202.60,69.75 L202.93,70.11 L203.26,70.49 L203.59,70.88 L203.92,71.27 L204.25,71.68 L204.58,72.10 L204.91,72.53 L205.24,72.96 L205.57,73.41 L205.89,73.87 L206.22,74.34 L206.55,74.83 L206.88,75.32 L207.21,75.82 L207.54,76.34 L207.87,76.86 L208.20,77.39 L208.53,77.94 L208.86,78.49 L209.19,79.05 L209.51,79.63 L209.84,80.21 L210.17,80.80 L210.50,81.39 L210.83,82.00 L211.16,82.61 L211.49,83.22 L211.82,83.85 L212.15,84.47 L212.48,85.11 L212.80,85.75 L213.13,86.39 L213.46,87.03 L213.79,87.68 L214.12,88.33 L214.45,88.98 L214.78,89.64 L215.11,90.29 L215.44,90.95 L215.77,91.61 L216.10,92.26 L216.42,92.92 L216.75,93.58 L217.08,94.24 L217.41,94.91 L217.74,95.57 L218.07,96.23 L218.40,96.90 L218.73,97.57 L219.06,98.24 L219.39,98.92 L219.71,99.60 L220.04,100.29 L220.37,100.99 L220.70,101.69 L221.03,102.40 L221.36,103.13 L221.69,103.86 L222.02,104.62 L222.35,105.38 L222.68,106.17 L223.01,106.97 L223.33,107.79 L223.66,108.64 L223.99,109.51 L224.32,110.40 L224.65,111.32 L224.98,112.26 L225.31,113.23 L225.64,114.23 L225.97,115.26 L226.30,116.31 L226.62,117.38 L226.95,118.48 L227.28,119.60 L227.61,120.75 L227.94,121.91 L228.27,123.08 L228.60,124.26 L228.93,125.45 L229.26,126.65 L229.59,127.84 L229.92,129.02 L230.24,130.20 L230.57,131.36 L230.90,132.50 L231.23,133.61 L231.56,134.70 L231.89,135.77 L232.22,136.79 L232.55,137.78 L232.88,138.74 L233.21,139.65 L233.53,140.53 L233.86,141.36 L234.19,142.15 L234.52,142.90 L234.85,143.61 L235.18,144.27 L235.51,144.90 L235.84,145.49 L236.17,146.04 L236.50,146.55 L236.82,147.03 L237.15,147.48 L237.48,147.90 L237.81,148.28 L238.14,148.64 L238.47,148.97 L238.80,149.28 L239.13,149.56 L239.46,149.83 L239.79,150.07 L240.12,150.29 L240.44,150.50 L240.77,150.69 L241.10,150.87 L241.43,151.03 L241.76,151.18 L242.09,151.31 L242.42,151.44 L242.75,151.56 L243.08,151.66 L243.41,151.76 L243.73,151.86 L244.06,151.94 L244.39,152.02 L244.72,152.09 L245.05,152.15 L245.38,152.21 L245.71,152.27 L246.04,152.32 L246.37,152.37 L246.70,152.41 L247.03,152.45 L247.35,152.49 L247.68,152.53 L248.01,152.56 L248.34,152.59 L248.67,152.62 L249.00,152.64 L249.33,152.66 L249.66,152.69 L249.99,152.71 L250.32,152.72 L250.64,152.74 L250.97,152.76 L251.30,152.77 L251.63,152.79 L251.96,152.80 L252.29,152.81 L252.62,152.82 L252.95,152.83 L253.28,152.84 L253.61,152.85 L253.94,152.86 L254.26,152.87 L254.59,152.88 L254.92,152.88 L255.25,152.89 L255.58,152.89 L255.91,152.90 L256.24,152.91 L256.57,152.91 L256.90,152.91 L257.23,152.92 L257.55,152.92 L257.88,152.93 L258.21,152.93 L258.54,152.93 L258.87,152.94 L259.20,152.94 L259.53,152.94 L259.86,152.95 L260.19,152.95 L260.52,152.95 L260.84,152.95 L261.17,152.95 L261.50,152.96 L261.83,152.96 L262.16,152.96 L262.49,152.96 L262.82,152.96 L263.15,152.96 L263.48,152.97 L263.81,152.97 L264.14,152.97 L264.46,152.97 L264.79,152.97 L265.12,152.97 L265.45,152.97 L265.78,152.97 L266.11,152.97 L266.44,152.97 L266.77,152.98 L267.10,152.98 L267.43,152.98 L267.75,152.98 L268.08,152.98 L268.41,152.98 L268.74,152.98 L269.07,152.98 L269.40,152.98" fill="none" stroke="#00f4f4" stroke-width="1.75" stroke-linejoin="round" stroke-linecap="round"/>
<path d="M448.50,36.20 L449.09,36.40 L449.69,36.61 L450.30,36.81 L450.90,37.02 L451.50,37.22 L452.10,37.43 L452.70,37.63 L453.29,37.83 L453.87,38.02 L454.44,38.21 L455.00,38.40 L455.48,38.56 L455.95,38.70 L456.41,38.85 L456.87,38.99 L457.32,39.13 L457.77,39.26 L458.21,39.40 L458.66,39.54 L459.10,39.69 L459.55,39.84 L460.00,40.00 L460.46,40.16 L460.91,40.31 L461.36,40.46 L461.81,40.62 L462.26,40.77 L462.71,40.94 L463.16,41.11 L463.62,41.30 L464.07,41.51 L464.53,41.74 L465.00,42.00 L465.61,42.38 L466.24,42.81 L466.88,43.29 L467.53,43.80 L468.19,44.33 L468.83,44.87 L469.47,45.42 L470.10,45.96 L470.70,46.47 L471.27,46.96 L471.80,47.40 L472.16,47.69 L472.50,47.97 L472.83,48.23 L473.14,48.48 L473.45,48.73 L473.75,48.98 L474.05,49.22 L474.35,49.48 L474.66,49.74 L474.97,50.01 L475.30,50.30 L475.71,50.67 L476.13,51.06 L476.55,51.46 L476.98,51.87 L477.42,52.30 L477.86,52.72 L478.29,53.15 L478.73,53.58 L479.16,54.00 L479.58,54.40 L480.00,54.80 L480.38,55.16 L480.75,55.51 L481.12,55.87 L481.49,56.22 L481.86,56.57 L482.23,56.91 L482.59,57.25 L482.95,57.58 L483.30,57.90 L483.65,58.20 L484.00,58.50 L484.28,58.74 L484.56,58.96 L484.84,59.18 L485.11,59.39 L485.39,59.59 L485.65,59.79 L485.92,59.99 L486.19,60.19 L486.46,60.39 L486.73,60.59 L487.00,60.80 L487.27,61.02 L487.54,61.24 L487.81,61.47 L488.08,61.71 L488.35,61.94 L488.62,62.17 L488.89,62.39 L489.17,62.61 L489.44,62.82 L489.72,63.02 L490.00,63.20 L490.27,63.36 L490.54,63.50 L490.82,63.63 L491.11,63.76 L491.39,63.88 L491.67,63.99 L491.95,64.11 L492.23,64.22 L492.50,64.34 L492.75,64.47 L493.00,64.60 L493.20,64.72 L493.38,64.85 L493.55,64.98 L493.72,65.11 L493.88,65.24 L494.04,65.37 L494.21,65.50 L494.39,65.63 L494.57,65.76 L494.78,65.88 L495.00,66.00 L495.36,66.17 L495.76,66.33 L496.18,66.49 L496.63,66.65 L497.10,66.80 L497.58,66.95 L498.06,67.09 L498.56,67.23 L499.05,67.36 L499.53,67.48 L500.00,67.60 L500.47,67.71 L500.95,67.80 L501.43,67.88 L501.92,67.95 L502.40,68.02 L502.89,68.09 L503.37,68.16 L503.84,68.23 L504.31,68.31 L504.76,68.40 L505.20,68.50 L505.57,68.60 L505.94,68.71 L506.29,68.82 L506.64,68.94 L506.99,69.06 L507.33,69.18 L507.67,69.31 L508.00,69.43 L508.34,69.56 L508.67,69.68 L509.00,69.80 L509.31,69.90 L509.63,70.00 L509.94,70.09 L510.25,70.17 L510.56,70.26 L510.86,70.35 L511.17,70.45 L511.46,70.56 L511.75,70.69 L512.03,70.83 L512.30,71.00 L512.58,71.20 L512.85,71.43 L513.11,71.68 L513.36,71.94 L513.60,72.22 L513.84,72.51 L514.07,72.81 L514.31,73.11 L514.54,73.41 L514.77,73.71 L515.00,74.00 L515.24,74.30 L515.47,74.60 L515.71,74.91 L515.94,75.22 L516.17,75.53 L516.39,75.85 L516.62,76.17 L516.84,76.50 L517.06,76.83 L517.28,77.16 L517.50,77.50 L517.74,77.88 L517.97,78.26 L518.20,78.66 L518.42,79.06 L518.65,79.47 L518.87,79.88 L519.10,80.29 L519.32,80.70 L519.54,81.10 L519.77,81.50 L520.00,81.90 L520.22,82.28 L520.44,82.66 L520.67,83.04 L520.89,83.41 L521.11,83.79 L521.33,84.16 L521.56,84.53 L521.79,84.90 L522.02,85.27 L522.26,85.63 L522.50,86.00 L522.76,86.36 L523.02,86.71 L523.29,87.04 L523.57,87.37 L523.85,87.70 L524.13,88.04 L524.41,88.39 L524.69,88.75 L524.96,89.14 L525.23,89.55 L525.50,90.00 L525.88,90.72 L526.26,91.52 L526.64,92.37 L527.01,93.27 L527.38,94.21 L527.75,95.17 L528.11,96.15 L528.46,97.13 L528.81,98.11 L529.16,99.07 L529.50,100.00 L529.83,100.91 L530.16,101.81 L530.48,102.72 L530.80,103.63 L531.11,104.53 L531.42,105.44 L531.72,106.35 L532.02,107.26 L532.32,108.18 L532.61,109.09 L532.90,110.00 L533.18,110.91 L533.47,111.81 L533.75,112.72 L534.02,113.63 L534.29,114.54 L534.56,115.44 L534.82,116.35 L535.08,117.26 L535.33,118.18 L535.57,119.09 L535.80,120.00 L536.02,120.91 L536.23,121.81 L536.43,122.72 L536.62,123.63 L536.81,124.54 L537.00,125.45 L537.18,126.36 L537.36,127.27 L537.53,128.18 L537.72,129.09 L537.90,130.00 L538.08,130.91 L538.26,131.83 L538.44,132.76 L538.62,133.69 L538.80,134.61 L538.97,135.53 L539.15,136.45 L539.33,137.36 L539.52,138.25 L539.71,139.14 L539.90,140.00 L540.08,140.77 L540.26,141.53 L540.45,142.28 L540.63,143.03 L540.82,143.77 L541.02,144.50 L541.21,145.22 L541.41,145.93 L541.60,146.63 L541.80,147.32 L542.00,148.00 L542.18,148.59 L542.36,149.17 L542.54,149.75 L542.72,150.32 L542.90,150.88 L543.09,151.44 L543.27,151.98 L543.46,152.51 L543.64,153.02 L543.82,153.52 L544.00,154.00 L544.14,154.36 L544.27,154.72 L544.40,155.08 L544.53,155.43 L544.66,155.77 L544.79,156.10 L544.92,156.41 L545.06,156.71 L545.20,156.99 L545.35,157.26 L545.50,157.50 L545.61,157.66 L545.72,157.83 L545.84,158.00 L545.96,158.16 L546.08,158.32 L546.20,158.46 L546.32,158.58 L546.44,158.68 L546.56,158.75 L546.68,158.79 L546.80,158.80 L546.96,158.75 L547.12,158.62 L547.28,158.45 L547.44,158.22 L547.60,157.95 L547.76,157.65 L547.92,157.33 L548.07,157.00 L548.22,156.66 L548.36,156.32 L548.50,156.00 L548.67,155.55 L548.84,155.05 L548.99,154.53 L549.13,153.98 L549.27,153.41 L549.40,152.83 L549.53,152.25 L549.65,151.67 L549.77,151.09 L549.88,150.54 L550.00,150.00 L550.11,149.53 L550.21,149.07 L550.31,148.61 L550.41,148.15 L550.50,147.70 L550.59,147.25 L550.68,146.80 L550.77,146.35 L550.85,145.91 L550.93,145.45 L551.00,145.00 L551.07,144.55 L551.13,144.12 L551.19,143.69 L551.25,143.26 L551.30,142.83 L551.35,142.39 L551.40,141.95 L551.45,141.49 L551.50,141.01 L551.55,140.52 L551.60,140.00 L551.67,139.22 L551.75,138.39 L551.82,137.52 L551.89,136.62 L551.96,135.69 L552.03,134.74 L552.10,133.78 L552.18,132.82 L552.25,131.86 L552.32,130.92 L552.40,130.00 L552.48,129.09 L552.56,128.18 L552.64,127.27 L552.73,126.36 L552.81,125.45 L552.90,124.55 L552.98,123.64 L553.07,122.73 L553.15,121.82 L553.23,120.91 L553.30,120.00 L553.37,119.09 L553.44,118.18 L553.50,117.27 L553.57,116.36 L553.63,115.45 L553.69,114.55 L553.75,113.64 L553.81,112.73 L553.87,111.82 L553.93,110.91 L554.00,110.00 L554.07,109.09 L554.14,108.18 L554.21,107.27 L554.28,106.36 L554.36,105.45 L554.43,104.55 L554.50,103.64 L554.58,102.73 L554.65,101.82 L554.73,100.91 L554.80,100.00 L554.87,99.09 L554.94,98.18 L555.02,97.27 L555.09,96.36 L555.16,95.45 L555.23,94.55 L555.30,93.64 L555.37,92.73 L555.45,91.82 L555.52,90.91 L555.60,90.00 L555.68,89.09 L555.76,88.18 L555.84,87.27 L555.92,86.36 L556.00,85.45 L556.08,84.54 L556.16,83.64 L556.24,82.73 L556.33,81.82 L556.41,80.91 L556.50,80.00 L556.59,79.09 L556.67,78.18 L556.75,77.27 L556.84,76.36 L556.92,75.45 L557.01,74.54 L557.10,73.63 L557.19,72.72 L557.29,71.82 L557.39,70.91 L557.50,70.00 L557.62,69.09 L557.73,68.18 L557.85,67.27 L557.98,66.36 L558.11,65.45 L558.24,64.54 L558.38,63.63 L558.53,62.72 L558.68,61.81 L558.84,60.91 L559.00,60.00 L559.17,59.09 L559.36,58.18 L559.54,57.27 L559.74,56.36 L559.94,55.45 L560.15,54.54 L560.36,53.63 L560.57,52.72 L560.78,51.82 L560.99,50.91 L561.20,50.00 L561.41,49.07 L561.62,48.11 L561.83,47.13 L562.04,46.15 L562.25,45.17 L562.46,44.20 L562.68,43.26 L562.90,42.36 L563.13,41.51 L563.36,40.72 L563.60,40.00 L563.75,39.58 L563.90,39.18 L564.05,38.80 L564.20,38.43 L564.35,38.08 L564.51,37.75 L564.67,37.43 L564.84,37.13 L565.02,36.84 L565.20,36.56 L565.40,36.30 L565.57,36.10 L565.74,35.91 L565.91,35.72 L566.09,35.55 L566.28,35.39 L566.47,35.23 L566.66,35.09 L566.86,34.95 L567.07,34.83 L567.28,34.71 L567.50,34.60 L567.74,34.50 L567.99,34.41 L568.24,34.34 L568.51,34.27 L568.77,34.22 L569.05,34.18 L569.33,34.14 L569.61,34.10 L569.90,34.07 L570.20,34.04 L570.50,34.00 L570.86,33.96 L571.22,33.93 L571.58,33.90 L571.94,33.88 L572.31,33.86 L572.70,33.85 L573.10,33.84 L573.53,33.83 L573.99,33.82 L574.48,33.81 L575.00,33.80 L576.18,33.78 L577.52,33.76 L579.00,33.74 L580.61,33.73 L582.29,33.73 L584.05,33.72 L585.83,33.72 L587.63,33.72 L589.40,33.71 L591.14,33.71 L592.80,33.70" fill="none" stroke="#ff0000" stroke-width="1.75" stroke-linejoin="round" stroke-linecap="round"/>
<path d="M448.50,36.10 L449.09,36.26 L449.69,36.43 L450.30,36.60 L450.90,36.77 L451.50,36.94 L452.10,37.10 L452.70,37.27 L453.29,37.43 L453.87,37.59 L454.44,37.75 L455.00,37.90 L455.48,38.03 L455.95,38.15 L456.41,38.27 L456.87,38.39 L457.32,38.50 L457.76,38.62 L458.21,38.73 L458.65,38.85 L459.10,38.96 L459.55,39.08 L460.00,39.20 L460.45,39.32 L460.91,39.42 L461.36,39.51 L461.81,39.61 L462.26,39.70 L462.71,39.81 L463.16,39.92 L463.62,40.06 L464.07,40.21 L464.53,40.39 L465.00,40.60 L465.61,40.92 L466.24,41.31 L466.88,41.74 L467.54,42.20 L468.19,42.70 L468.84,43.21 L469.48,43.72 L470.10,44.23 L470.70,44.72 L471.27,45.18 L471.80,45.60 L472.16,45.88 L472.51,46.15 L472.84,46.41 L473.15,46.66 L473.46,46.91 L473.76,47.16 L474.05,47.41 L474.35,47.66 L474.66,47.93 L474.97,48.21 L475.30,48.50 L475.71,48.88 L476.13,49.28 L476.56,49.70 L476.99,50.13 L477.42,50.56 L477.86,51.01 L478.30,51.46 L478.73,51.90 L479.16,52.35 L479.59,52.78 L480.00,53.20 L480.38,53.59 L480.75,53.97 L481.13,54.36 L481.50,54.75 L481.87,55.13 L482.23,55.52 L482.59,55.89 L482.95,56.26 L483.31,56.62 L483.66,56.96 L484.00,57.30 L484.28,57.57 L484.56,57.84 L484.84,58.11 L485.11,58.37 L485.37,58.62 L485.64,58.86 L485.91,59.11 L486.17,59.34 L486.44,59.57 L486.72,59.79 L487.00,60.00 L487.26,60.19 L487.53,60.37 L487.80,60.55 L488.07,60.72 L488.35,60.89 L488.62,61.05 L488.89,61.20 L489.17,61.35 L489.45,61.50 L489.72,61.65 L490.00,61.80 L490.27,61.94 L490.55,62.08 L490.83,62.21 L491.11,62.34 L491.39,62.46 L491.68,62.59 L491.95,62.71 L492.23,62.83 L492.49,62.96 L492.75,63.08 L493.00,63.20 L493.19,63.30 L493.38,63.40 L493.55,63.50 L493.72,63.60 L493.88,63.70 L494.05,63.80 L494.22,63.90 L494.39,64.00 L494.58,64.10 L494.78,64.20 L495.00,64.30 L495.37,64.46 L495.76,64.62 L496.19,64.78 L496.64,64.95 L497.10,65.11 L497.58,65.27 L498.07,65.43 L498.56,65.59 L499.05,65.73 L499.53,65.87 L500.00,66.00 L500.47,66.12 L500.95,66.22 L501.43,66.32 L501.91,66.41 L502.40,66.49 L502.88,66.57 L503.36,66.65 L503.84,66.73 L504.30,66.82 L504.76,66.91 L505.20,67.00 L505.57,67.08 L505.93,67.17 L506.29,67.25 L506.64,67.34 L506.99,67.42 L507.33,67.51 L507.67,67.60 L508.00,67.70 L508.34,67.79 L508.67,67.89 L509.00,68.00 L509.31,68.10 L509.63,68.20 L509.94,68.30 L510.25,68.40 L510.56,68.51 L510.86,68.62 L511.16,68.73 L511.45,68.86 L511.74,68.99 L512.02,69.14 L512.30,69.30 L512.57,69.48 L512.83,69.66 L513.09,69.86 L513.34,70.07 L513.59,70.29 L513.83,70.51 L514.07,70.74 L514.30,70.98 L514.54,71.22 L514.77,71.46 L515.00,71.70 L515.24,71.96 L515.48,72.22 L515.71,72.49 L515.94,72.76 L516.17,73.04 L516.39,73.32 L516.62,73.61 L516.84,73.90 L517.06,74.20 L517.28,74.50 L517.50,74.80 L517.74,75.14 L517.97,75.51 L518.20,75.88 L518.43,76.27 L518.66,76.66 L518.89,77.05 L519.12,77.43 L519.34,77.79 L519.56,78.12 L519.78,78.43 L520.00,78.70 L520.14,78.85 L520.28,78.98 L520.41,79.09 L520.54,79.20 L520.68,79.29 L520.81,79.39 L520.94,79.48 L521.08,79.59 L521.22,79.71 L521.36,79.84 L521.50,80.00 L521.76,80.32 L522.02,80.70 L522.30,81.11 L522.58,81.56 L522.86,82.04 L523.15,82.53 L523.45,83.03 L523.74,83.54 L524.03,84.04 L524.32,84.53 L524.60,85.00 L524.88,85.45 L525.17,85.88 L525.45,86.31 L525.73,86.73 L526.02,87.16 L526.30,87.59 L526.59,88.03 L526.87,88.49 L527.15,88.97 L527.42,89.47 L527.70,90.00 L528.07,90.77 L528.45,91.59 L528.82,92.45 L529.20,93.35 L529.57,94.28 L529.94,95.23 L530.30,96.19 L530.64,97.16 L530.98,98.12 L531.30,99.07 L531.60,100.00 L531.88,100.90 L532.13,101.81 L532.37,102.71 L532.60,103.62 L532.81,104.53 L533.02,105.45 L533.23,106.36 L533.44,107.27 L533.65,108.18 L533.87,109.09 L534.10,110.00 L534.34,110.91 L534.59,111.82 L534.84,112.73 L535.10,113.63 L535.35,114.54 L535.61,115.45 L535.86,116.36 L536.11,117.27 L536.35,118.18 L536.58,119.09 L536.80,120.00 L537.01,120.91 L537.20,121.81 L537.39,122.72 L537.57,123.63 L537.75,124.54 L537.92,125.45 L538.09,126.36 L538.27,127.27 L538.44,128.18 L538.62,129.09 L538.80,130.00 L538.99,130.91 L539.17,131.83 L539.36,132.76 L539.55,133.69 L539.73,134.61 L539.92,135.53 L540.11,136.45 L540.31,137.36 L540.50,138.25 L540.70,139.13 L540.90,140.00 L541.08,140.77 L541.26,141.54 L541.45,142.30 L541.63,143.06 L541.82,143.81 L542.01,144.55 L542.20,145.28 L542.39,145.99 L542.59,146.68 L542.79,147.35 L543.00,148.00 L543.17,148.51 L543.34,149.03 L543.51,149.54 L543.68,150.04 L543.85,150.53 L544.03,151.00 L544.21,151.45 L544.40,151.88 L544.59,152.29 L544.79,152.66 L545.00,153.00 L545.14,153.22 L545.29,153.44 L545.45,153.66 L545.60,153.87 L545.76,154.07 L545.92,154.25 L546.08,154.41 L546.24,154.54 L546.40,154.63 L546.55,154.69 L546.70,154.70 L546.86,154.66 L547.01,154.57 L547.17,154.43 L547.32,154.26 L547.48,154.05 L547.63,153.82 L547.77,153.57 L547.91,153.31 L548.05,153.04 L548.18,152.77 L548.30,152.50 L548.46,152.11 L548.60,151.68 L548.73,151.22 L548.85,150.73 L548.96,150.23 L549.06,149.70 L549.15,149.17 L549.24,148.63 L549.33,148.08 L549.41,147.54 L549.50,147.00 L549.59,146.40 L549.68,145.80 L549.76,145.19 L549.83,144.57 L549.90,143.95 L549.97,143.32 L550.03,142.68 L550.09,142.02 L550.16,141.36 L550.23,140.69 L550.30,140.00 L550.39,139.16 L550.48,138.29 L550.58,137.40 L550.67,136.50 L550.77,135.58 L550.86,134.65 L550.96,133.71 L551.05,132.78 L551.14,131.84 L551.22,130.92 L551.30,130.00 L551.37,129.09 L551.44,128.18 L551.51,127.27 L551.57,126.36 L551.63,125.46 L551.69,124.55 L551.75,123.64 L551.81,122.73 L551.87,121.82 L551.93,120.91 L552.00,120.00 L552.07,119.09 L552.14,118.18 L552.21,117.27 L552.28,116.36 L552.35,115.45 L552.42,114.54 L552.49,113.64 L552.56,112.73 L552.64,111.82 L552.72,110.91 L552.80,110.00 L552.88,109.09 L552.97,108.18 L553.06,107.27 L553.14,106.36 L553.24,105.45 L553.33,104.54 L553.42,103.64 L553.51,102.73 L553.61,101.82 L553.70,100.91 L553.80,100.00 L553.90,99.09 L554.00,98.18 L554.10,97.27 L554.20,96.36 L554.30,95.45 L554.41,94.55 L554.51,93.64 L554.61,92.73 L554.71,91.82 L554.81,90.91 L554.90,90.00 L554.99,89.09 L555.07,88.18 L555.16,87.27 L555.24,86.36 L555.32,85.45 L555.40,84.55 L555.47,83.64 L555.55,82.73 L555.63,81.82 L555.72,80.91 L555.80,80.00 L555.89,79.09 L555.97,78.18 L556.05,77.27 L556.14,76.36 L556.22,75.45 L556.31,74.54 L556.40,73.63 L556.49,72.72 L556.59,71.82 L556.69,70.91 L556.80,70.00 L556.92,69.09 L557.04,68.18 L557.16,67.27 L557.29,66.36 L557.42,65.45 L557.56,64.54 L557.70,63.63 L557.84,62.72 L557.99,61.82 L558.14,60.91 L558.30,60.00 L558.46,59.09 L558.63,58.18 L558.79,57.27 L558.97,56.36 L559.14,55.45 L559.32,54.54 L559.51,53.63 L559.70,52.72 L559.89,51.81 L560.09,50.91 L560.30,50.00 L560.51,49.07 L560.73,48.11 L560.95,47.13 L561.17,46.14 L561.41,45.16 L561.64,44.19 L561.88,43.26 L562.13,42.36 L562.38,41.51 L562.64,40.72 L562.90,40.00 L563.07,39.58 L563.24,39.18 L563.41,38.79 L563.58,38.43 L563.75,38.08 L563.93,37.75 L564.11,37.43 L564.30,37.13 L564.49,36.84 L564.69,36.56 L564.90,36.30 L565.07,36.10 L565.25,35.91 L565.42,35.73 L565.60,35.55 L565.79,35.39 L565.97,35.23 L566.17,35.09 L566.37,34.95 L566.57,34.83 L566.78,34.71 L567.00,34.60 L567.24,34.50 L567.49,34.41 L567.74,34.34 L568.00,34.27 L568.27,34.22 L568.54,34.18 L568.82,34.14 L569.10,34.10 L569.40,34.07 L569.69,34.04 L570.00,34.00 L570.39,33.96 L570.79,33.92 L571.19,33.90 L571.59,33.88 L572.01,33.86 L572.45,33.85 L572.90,33.84 L573.38,33.83 L573.89,33.82 L574.43,33.81 L575.00,33.80 L576.21,33.78 L577.57,33.76 L579.07,33.75 L580.67,33.74 L582.35,33.73 L584.09,33.73 L585.87,33.72 L587.65,33.72 L589.42,33.71 L591.14,33.71 L592.80,33.70" fill="none" stroke="#00e000" stroke-width="1.75" stroke-linejoin="round" stroke-linecap="round"/>
<path d="M448.50,36.30 L449.09,36.49 L449.69,36.68 L450.30,36.88 L450.90,37.07 L451.50,37.26 L452.10,37.46 L452.70,37.65 L453.29,37.84 L453.87,38.03 L454.44,38.22 L455.00,38.40 L455.48,38.56 L455.95,38.71 L456.41,38.87 L456.87,39.02 L457.32,39.17 L457.77,39.32 L458.21,39.47 L458.66,39.63 L459.10,39.78 L459.55,39.94 L460.00,40.10 L460.45,40.26 L460.91,40.40 L461.36,40.55 L461.81,40.69 L462.26,40.83 L462.71,40.98 L463.16,41.14 L463.62,41.32 L464.08,41.52 L464.54,41.75 L465.00,42.00 L465.61,42.38 L466.24,42.82 L466.89,43.30 L467.54,43.82 L468.20,44.37 L468.85,44.93 L469.49,45.50 L470.11,46.06 L470.70,46.61 L471.27,47.12 L471.80,47.60 L472.17,47.93 L472.51,48.26 L472.83,48.57 L473.14,48.88 L473.44,49.18 L473.74,49.48 L474.04,49.78 L474.34,50.08 L474.64,50.38 L474.96,50.69 L475.30,51.00 L475.70,51.36 L476.11,51.73 L476.53,52.10 L476.96,52.48 L477.39,52.86 L477.83,53.23 L478.27,53.60 L478.71,53.97 L479.15,54.33 L479.58,54.67 L480.00,55.00 L480.37,55.29 L480.74,55.58 L481.11,55.86 L481.48,56.14 L481.85,56.42 L482.21,56.68 L482.57,56.94 L482.94,57.18 L483.29,57.41 L483.65,57.61 L484.00,57.80 L484.28,57.94 L484.56,58.07 L484.83,58.19 L485.10,58.30 L485.37,58.40 L485.64,58.49 L485.91,58.57 L486.18,58.65 L486.45,58.71 L486.73,58.76 L487.00,58.80 L487.27,58.83 L487.54,58.84 L487.81,58.84 L488.09,58.83 L488.36,58.81 L488.63,58.78 L488.91,58.75 L489.18,58.71 L489.46,58.68 L489.73,58.64 L490.00,58.60 L490.27,58.56 L490.55,58.52 L490.82,58.48 L491.09,58.43 L491.37,58.38 L491.64,58.32 L491.91,58.26 L492.19,58.20 L492.46,58.14 L492.73,58.07 L493.00,58.00 L493.27,57.92 L493.54,57.84 L493.81,57.76 L494.08,57.67 L494.34,57.57 L494.61,57.48 L494.88,57.38 L495.15,57.29 L495.43,57.19 L495.71,57.09 L496.00,57.00 L496.34,56.89 L496.68,56.79 L497.03,56.68 L497.39,56.57 L497.75,56.46 L498.11,56.35 L498.48,56.24 L498.85,56.13 L499.23,56.02 L499.61,55.91 L500.00,55.80 L500.45,55.66 L500.91,55.51 L501.39,55.35 L501.87,55.19 L502.36,55.02 L502.85,54.87 L503.34,54.72 L503.82,54.60 L504.29,54.50 L504.75,54.43 L505.20,54.40 L505.57,54.40 L505.93,54.41 L506.29,54.45 L506.65,54.50 L507.00,54.56 L507.34,54.64 L507.68,54.73 L508.02,54.83 L508.35,54.94 L508.68,55.07 L509.00,55.20 L509.32,55.35 L509.64,55.52 L509.95,55.71 L510.26,55.92 L510.56,56.13 L510.86,56.35 L511.16,56.58 L511.45,56.81 L511.74,57.05 L512.02,57.28 L512.30,57.50 L512.56,57.71 L512.82,57.91 L513.08,58.12 L513.33,58.33 L513.58,58.54 L513.82,58.75 L514.06,58.97 L514.30,59.19 L514.54,59.42 L514.77,59.65 L515.00,59.90 L515.24,60.18 L515.48,60.46 L515.72,60.76 L515.94,61.07 L516.17,61.38 L516.39,61.69 L516.61,62.01 L516.83,62.34 L517.06,62.66 L517.28,62.98 L517.50,63.30 L517.73,63.63 L517.96,63.95 L518.19,64.28 L518.42,64.61 L518.65,64.94 L518.88,65.27 L519.11,65.61 L519.33,65.95 L519.56,66.30 L519.78,66.65 L520.00,67.00 L520.23,67.39 L520.47,67.78 L520.70,68.18 L520.93,68.59 L521.15,69.00 L521.38,69.41 L521.60,69.82 L521.83,70.24 L522.05,70.66 L522.28,71.08 L522.50,71.50 L522.73,71.94 L522.97,72.39 L523.20,72.84 L523.44,73.29 L523.67,73.75 L523.91,74.21 L524.13,74.66 L524.36,75.11 L524.58,75.55 L524.79,75.98 L525.00,76.40 L525.17,76.74 L525.32,77.06 L525.47,77.37 L525.62,77.67 L525.76,77.97 L525.91,78.27 L526.05,78.58 L526.20,78.90 L526.36,79.24 L526.52,79.61 L526.70,80.00 L527.02,80.72 L527.37,81.51 L527.75,82.36 L528.14,83.26 L528.55,84.19 L528.96,85.16 L529.37,86.14 L529.78,87.12 L530.17,88.10 L530.55,89.07 L530.90,90.00 L531.23,90.90 L531.55,91.81 L531.86,92.71 L532.16,93.62 L532.46,94.53 L532.74,95.44 L533.03,96.35 L533.30,97.26 L533.57,98.17 L533.84,99.09 L534.10,100.00 L534.35,100.91 L534.60,101.81 L534.84,102.72 L535.07,103.63 L535.30,104.54 L535.53,105.45 L535.75,106.36 L535.96,107.27 L536.18,108.18 L536.39,109.09 L536.60,110.00 L536.80,110.91 L537.00,111.82 L537.20,112.72 L537.38,113.63 L537.57,114.54 L537.75,115.45 L537.94,116.36 L538.12,117.27 L538.31,118.18 L538.50,119.09 L538.70,120.00 L538.90,120.91 L539.10,121.83 L539.31,122.75 L539.51,123.67 L539.72,124.60 L539.92,125.51 L540.13,126.43 L540.35,127.34 L540.56,128.24 L540.78,129.12 L541.00,130.00 L541.21,130.81 L541.42,131.63 L541.63,132.46 L541.84,133.28 L542.06,134.10 L542.27,134.90 L542.49,135.68 L542.72,136.43 L542.94,137.16 L543.17,137.85 L543.40,138.50 L543.57,138.95 L543.73,139.38 L543.90,139.82 L544.06,140.23 L544.23,140.64 L544.40,141.02 L544.57,141.39 L544.75,141.73 L544.93,142.05 L545.11,142.34 L545.30,142.60 L545.42,142.75 L545.55,142.90 L545.68,143.05 L545.81,143.19 L545.94,143.32 L546.07,143.44 L546.20,143.54 L546.33,143.62 L546.46,143.67 L546.58,143.70 L546.70,143.70 L546.83,143.66 L546.96,143.57 L547.09,143.45 L547.21,143.30 L547.33,143.13 L547.45,142.93 L547.57,142.71 L547.68,142.49 L547.79,142.26 L547.90,142.03 L548.00,141.80 L548.14,141.46 L548.27,141.08 L548.39,140.68 L548.51,140.25 L548.61,139.81 L548.72,139.36 L548.81,138.89 L548.91,138.42 L549.01,137.94 L549.10,137.47 L549.20,137.00 L549.31,136.48 L549.41,135.95 L549.51,135.41 L549.61,134.87 L549.71,134.32 L549.81,133.77 L549.90,133.21 L550.00,132.65 L550.10,132.10 L550.20,131.55 L550.30,131.00 L550.41,130.46 L550.51,129.91 L550.62,129.38 L550.73,128.84 L550.84,128.30 L550.95,127.76 L551.06,127.22 L551.17,126.67 L551.28,126.12 L551.39,125.56 L551.50,125.00 L551.62,124.39 L551.74,123.77 L551.87,123.14 L551.99,122.52 L552.12,121.88 L552.24,121.25 L552.36,120.61 L552.48,119.96 L552.59,119.31 L552.70,118.66 L552.80,118.00 L552.90,117.30 L552.99,116.59 L553.08,115.88 L553.16,115.17 L553.24,114.45 L553.32,113.73 L553.39,113.00 L553.47,112.26 L553.54,111.52 L553.62,110.76 L553.70,110.00 L553.79,109.13 L553.88,108.25 L553.98,107.35 L554.07,106.45 L554.16,105.53 L554.25,104.61 L554.34,103.68 L554.43,102.76 L554.52,101.83 L554.61,100.91 L554.70,100.00 L554.79,99.09 L554.87,98.18 L554.95,97.27 L555.03,96.36 L555.11,95.45 L555.19,94.55 L555.27,93.64 L555.35,92.73 L555.43,91.82 L555.51,90.91 L555.60,90.00 L555.69,89.09 L555.77,88.18 L555.86,87.27 L555.95,86.36 L556.04,85.45 L556.13,84.54 L556.22,83.64 L556.31,82.73 L556.40,81.82 L556.50,80.91 L556.60,80.00 L556.70,79.09 L556.80,78.18 L556.90,77.27 L557.00,76.36 L557.10,75.45 L557.20,74.54 L557.31,73.63 L557.42,72.72 L557.54,71.82 L557.67,70.91 L557.80,70.00 L557.94,69.09 L558.08,68.18 L558.23,67.27 L558.38,66.36 L558.53,65.45 L558.70,64.54 L558.86,63.63 L559.04,62.72 L559.22,61.81 L559.41,60.91 L559.60,60.00 L559.81,59.09 L560.03,58.18 L560.25,57.27 L560.49,56.36 L560.73,55.45 L560.98,54.54 L561.23,53.63 L561.48,52.73 L561.72,51.82 L561.96,50.91 L562.20,50.00 L562.43,49.07 L562.66,48.11 L562.88,47.14 L563.11,46.15 L563.33,45.17 L563.55,44.20 L563.78,43.26 L564.00,42.36 L564.23,41.51 L564.46,40.72 L564.70,40.00 L564.85,39.58 L564.99,39.18 L565.13,38.80 L565.27,38.43 L565.41,38.08 L565.56,37.75 L565.71,37.43 L565.86,37.13 L566.03,36.84 L566.21,36.56 L566.40,36.30 L566.56,36.10 L566.73,35.90 L566.90,35.72 L567.08,35.55 L567.26,35.39 L567.45,35.23 L567.64,35.09 L567.85,34.95 L568.06,34.83 L568.27,34.71 L568.50,34.60 L568.77,34.49 L569.05,34.40 L569.34,34.32 L569.65,34.26 L569.96,34.21 L570.28,34.17 L570.61,34.13 L570.94,34.10 L571.29,34.07 L571.64,34.03 L572.00,34.00 L572.47,33.96 L572.96,33.92 L573.45,33.90 L573.95,33.87 L574.47,33.86 L575.00,33.85 L575.55,33.84 L576.13,33.83 L576.72,33.82 L577.35,33.81 L578.00,33.80 L579.10,33.78 L580.29,33.77 L581.56,33.75 L582.90,33.74 L584.28,33.74 L585.70,33.73 L587.14,33.73 L588.59,33.72 L590.02,33.71 L591.43,33.71 L592.80,33.70" fill="none" stroke="#0000f0" stroke-width="1.75" stroke-linejoin="round" stroke-linecap="round"/>
<path d="M448.50,36.20 L449.09,36.38 L449.69,36.56 L450.30,36.75 L450.90,36.93 L451.50,37.11 L452.10,37.30 L452.70,37.48 L453.29,37.66 L453.87,37.84 L454.44,38.02 L455.00,38.20 L455.48,38.36 L455.95,38.51 L456.41,38.67 L456.87,38.83 L457.32,38.98 L457.76,39.14 L458.21,39.29 L458.65,39.44 L459.10,39.60 L459.55,39.75 L460.00,39.90 L460.45,40.04 L460.91,40.17 L461.36,40.28 L461.81,40.39 L462.26,40.50 L462.71,40.62 L463.16,40.75 L463.62,40.90 L464.08,41.07 L464.54,41.27 L465.00,41.50 L465.61,41.86 L466.25,42.28 L466.89,42.75 L467.55,43.26 L468.20,43.80 L468.85,44.36 L469.49,44.92 L470.11,45.47 L470.71,46.01 L471.27,46.53 L471.80,47.00 L472.17,47.33 L472.51,47.65 L472.83,47.97 L473.15,48.27 L473.45,48.58 L473.74,48.88 L474.04,49.18 L474.34,49.48 L474.64,49.78 L474.96,50.09 L475.30,50.40 L475.70,50.76 L476.11,51.13 L476.53,51.50 L476.96,51.87 L477.40,52.25 L477.84,52.62 L478.28,52.99 L478.72,53.35 L479.15,53.71 L479.58,54.06 L480.00,54.40 L480.37,54.70 L480.74,55.00 L481.11,55.30 L481.48,55.60 L481.85,55.90 L482.21,56.18 L482.58,56.46 L482.94,56.72 L483.29,56.96 L483.65,57.19 L484.00,57.40 L484.28,57.55 L484.56,57.70 L484.83,57.84 L485.10,57.97 L485.37,58.09 L485.64,58.20 L485.91,58.30 L486.18,58.39 L486.45,58.47 L486.72,58.54 L487.00,58.60 L487.27,58.65 L487.54,58.68 L487.81,58.70 L488.08,58.71 L488.36,58.72 L488.63,58.71 L488.91,58.70 L489.18,58.68 L489.46,58.66 L489.73,58.63 L490.00,58.60 L490.27,58.57 L490.55,58.53 L490.82,58.48 L491.10,58.43 L491.37,58.37 L491.65,58.31 L491.92,58.24 L492.19,58.16 L492.46,58.08 L492.73,57.99 L493.00,57.90 L493.28,57.79 L493.55,57.67 L493.81,57.54 L494.08,57.40 L494.34,57.26 L494.61,57.11 L494.88,56.96 L495.15,56.81 L495.42,56.67 L495.71,56.53 L496.00,56.40 L496.34,56.26 L496.68,56.13 L497.03,56.00 L497.38,55.87 L497.74,55.74 L498.11,55.62 L498.48,55.50 L498.85,55.37 L499.23,55.25 L499.61,55.13 L500.00,55.00 L500.45,54.85 L500.91,54.68 L501.39,54.50 L501.87,54.31 L502.36,54.13 L502.85,53.96 L503.33,53.80 L503.82,53.66 L504.29,53.54 L504.75,53.45 L505.20,53.40 L505.57,53.38 L505.93,53.38 L506.29,53.40 L506.64,53.43 L506.99,53.47 L507.34,53.53 L507.68,53.60 L508.01,53.69 L508.35,53.78 L508.68,53.89 L509.00,54.00 L509.32,54.13 L509.64,54.27 L509.95,54.43 L510.26,54.61 L510.56,54.79 L510.86,54.98 L511.16,55.18 L511.45,55.39 L511.74,55.59 L512.02,55.80 L512.30,56.00 L512.56,56.19 L512.82,56.39 L513.08,56.59 L513.33,56.79 L513.57,57.00 L513.81,57.21 L514.06,57.42 L514.29,57.64 L514.53,57.86 L514.77,58.08 L515.00,58.30 L515.24,58.53 L515.47,58.76 L515.71,58.99 L515.94,59.23 L516.16,59.47 L516.39,59.71 L516.62,59.96 L516.84,60.21 L517.06,60.47 L517.28,60.73 L517.50,61.00 L517.74,61.30 L517.97,61.61 L518.20,61.93 L518.43,62.26 L518.65,62.59 L518.88,62.92 L519.10,63.26 L519.33,63.60 L519.55,63.93 L519.77,64.27 L520.00,64.60 L520.23,64.93 L520.46,65.26 L520.69,65.60 L520.92,65.93 L521.14,66.26 L521.37,66.59 L521.60,66.93 L521.83,67.27 L522.05,67.61 L522.28,67.95 L522.50,68.30 L522.73,68.67 L522.96,69.04 L523.19,69.42 L523.42,69.81 L523.64,70.19 L523.87,70.58 L524.09,70.97 L524.32,71.35 L524.54,71.74 L524.77,72.12 L525.00,72.50 L525.23,72.87 L525.45,73.24 L525.68,73.61 L525.91,73.98 L526.14,74.34 L526.37,74.71 L526.60,75.07 L526.83,75.43 L527.05,75.79 L527.28,76.15 L527.50,76.50 L527.71,76.82 L527.91,77.12 L528.11,77.41 L528.31,77.70 L528.51,77.99 L528.71,78.28 L528.91,78.58 L529.11,78.90 L529.31,79.24 L529.50,79.60 L529.70,80.00 L530.01,80.71 L530.32,81.49 L530.62,82.34 L530.92,83.24 L531.21,84.19 L531.51,85.16 L531.82,86.15 L532.12,87.14 L532.44,88.12 L532.76,89.08 L533.10,90.00 L533.46,90.91 L533.83,91.82 L534.21,92.73 L534.60,93.64 L535.00,94.55 L535.39,95.45 L535.79,96.36 L536.18,97.27 L536.57,98.18 L536.94,99.09 L537.30,100.00 L537.64,100.92 L537.98,101.85 L538.31,102.80 L538.63,103.76 L538.95,104.71 L539.26,105.66 L539.57,106.59 L539.88,107.49 L540.19,108.37 L540.49,109.21 L540.80,110.00 L541.03,110.57 L541.26,111.13 L541.48,111.67 L541.71,112.20 L541.93,112.71 L542.15,113.21 L542.38,113.69 L542.60,114.16 L542.83,114.62 L543.06,115.07 L543.30,115.50 L543.49,115.85 L543.68,116.19 L543.87,116.54 L544.07,116.87 L544.26,117.20 L544.46,117.51 L544.65,117.81 L544.86,118.09 L545.07,118.35 L545.28,118.59 L545.50,118.80 L545.67,118.95 L545.85,119.09 L546.03,119.23 L546.22,119.35 L546.40,119.47 L546.59,119.57 L546.78,119.66 L546.96,119.73 L547.15,119.77 L547.33,119.80 L547.50,119.80 L547.67,119.77 L547.83,119.73 L548.00,119.66 L548.17,119.57 L548.33,119.46 L548.49,119.34 L548.65,119.21 L548.80,119.07 L548.94,118.92 L549.07,118.76 L549.20,118.60 L549.34,118.39 L549.47,118.16 L549.58,117.91 L549.68,117.64 L549.77,117.36 L549.86,117.07 L549.94,116.76 L550.03,116.45 L550.11,116.14 L550.20,115.82 L550.30,115.50 L550.43,115.08 L550.57,114.64 L550.71,114.19 L550.85,113.73 L550.99,113.25 L551.14,112.77 L551.28,112.28 L551.41,111.78 L551.55,111.29 L551.68,110.79 L551.80,110.30 L551.92,109.78 L552.04,109.25 L552.15,108.71 L552.26,108.17 L552.37,107.63 L552.47,107.09 L552.58,106.54 L552.68,106.00 L552.78,105.46 L552.89,104.93 L553.00,104.40 L553.11,103.90 L553.22,103.41 L553.33,102.92 L553.44,102.43 L553.55,101.95 L553.66,101.46 L553.77,100.98 L553.88,100.49 L553.99,100.00 L554.10,99.50 L554.20,99.00 L554.31,98.47 L554.41,97.94 L554.52,97.40 L554.62,96.86 L554.72,96.32 L554.82,95.78 L554.92,95.23 L555.02,94.68 L555.11,94.12 L555.21,93.56 L555.30,93.00 L555.40,92.39 L555.49,91.77 L555.59,91.14 L555.68,90.52 L555.77,89.88 L555.86,89.25 L555.95,88.60 L556.04,87.96 L556.12,87.31 L556.21,86.66 L556.30,86.00 L556.39,85.29 L556.48,84.58 L556.57,83.86 L556.65,83.13 L556.74,82.40 L556.82,81.66 L556.91,80.93 L557.00,80.19 L557.10,79.46 L557.19,78.73 L557.30,78.00 L557.41,77.27 L557.53,76.56 L557.65,75.84 L557.77,75.13 L557.90,74.41 L558.03,73.69 L558.16,72.97 L558.29,72.25 L558.43,71.51 L558.56,70.76 L558.70,70.00 L558.85,69.13 L559.00,68.25 L559.14,67.35 L559.28,66.44 L559.43,65.52 L559.58,64.60 L559.74,63.67 L559.91,62.75 L560.09,61.82 L560.29,60.91 L560.50,60.00 L560.73,59.09 L560.99,58.17 L561.26,57.26 L561.55,56.35 L561.84,55.45 L562.14,54.54 L562.44,53.63 L562.74,52.73 L563.04,51.82 L563.32,50.91 L563.60,50.00 L563.86,49.07 L564.12,48.12 L564.37,47.14 L564.62,46.15 L564.87,45.17 L565.12,44.20 L565.36,43.26 L565.61,42.36 L565.87,41.51 L566.13,40.72 L566.40,40.00 L566.57,39.58 L566.74,39.18 L566.91,38.79 L567.09,38.43 L567.26,38.08 L567.43,37.75 L567.61,37.43 L567.80,37.13 L567.99,36.84 L568.19,36.56 L568.40,36.30 L568.57,36.10 L568.75,35.91 L568.93,35.73 L569.11,35.55 L569.30,35.39 L569.49,35.24 L569.68,35.09 L569.88,34.95 L570.08,34.83 L570.29,34.71 L570.50,34.60 L570.71,34.50 L570.92,34.42 L571.13,34.35 L571.34,34.29 L571.56,34.24 L571.78,34.19 L572.01,34.15 L572.24,34.11 L572.48,34.07 L572.74,34.04 L573.00,34.00 L573.38,33.95 L573.77,33.92 L574.16,33.89 L574.58,33.87 L575.00,33.85 L575.45,33.84 L575.91,33.83 L576.40,33.83 L576.91,33.82 L577.44,33.81 L578.00,33.80 L579.05,33.78 L580.21,33.76 L581.47,33.75 L582.80,33.74 L584.20,33.73 L585.63,33.73 L587.09,33.72 L588.55,33.72 L590.00,33.71 L591.43,33.71 L592.80,33.70" fill="none" stroke="#00f4f4" stroke-width="1.75" stroke-linejoin="round" stroke-linecap="round"/>
<path d="M345.40,33.40 L347.18,33.40 L348.96,33.40 L350.74,33.39 L352.52,33.39 L354.30,33.39 L356.08,33.39 L357.86,33.39 L359.64,33.39 L361.42,33.39 L363.21,33.39 L365.00,33.40 L366.81,33.41 L368.62,33.42 L370.44,33.43 L372.26,33.45 L374.08,33.47 L375.90,33.48 L377.72,33.50 L379.54,33.53 L381.36,33.55 L383.18,33.57 L385.00,33.60 L386.82,33.63 L388.64,33.66 L390.45,33.69 L392.27,33.72 L394.09,33.76 L395.91,33.79 L397.73,33.83 L399.55,33.87 L401.36,33.91 L403.18,33.96 L405.00,34.00 L406.83,34.05 L408.68,34.09 L410.55,34.14 L412.42,34.19 L414.29,34.24 L416.15,34.29 L417.98,34.35 L419.80,34.40 L421.58,34.46 L423.31,34.53 L425.00,34.60 L426.39,34.65 L427.75,34.70 L429.10,34.74 L430.43,34.79 L431.74,34.83 L433.03,34.88 L434.30,34.95 L435.54,35.03 L436.75,35.13 L437.94,35.25 L439.10,35.40 L440.05,35.55 L441.01,35.71 L441.96,35.88 L442.90,36.07 L443.82,36.27 L444.71,36.48 L445.57,36.70 L446.38,36.92 L447.15,37.14 L447.86,37.37 L448.50,37.60 L448.85,37.73 L449.16,37.87 L449.46,38.00 L449.74,38.13 L450.00,38.26 L450.25,38.40 L450.50,38.54 L450.74,38.69 L450.99,38.85 L451.24,39.02 L451.50,39.20 L451.80,39.42 L452.11,39.64 L452.41,39.88 L452.71,40.13 L453.01,40.38 L453.31,40.65 L453.60,40.92 L453.90,41.21 L454.20,41.50 L454.50,41.79 L454.80,42.10 L455.16,42.48 L455.54,42.89 L455.93,43.32 L456.32,43.77 L456.70,44.22 L457.08,44.68 L457.45,45.14 L457.80,45.59 L458.13,46.02 L458.43,46.42 L458.70,46.80 L458.85,47.03 L458.99,47.24 L459.11,47.44 L459.22,47.63 L459.33,47.82 L459.43,48.00 L459.53,48.20 L459.63,48.40 L459.74,48.61 L459.86,48.85 L460.00,49.10 L460.26,49.60 L460.56,50.17 L460.89,50.80 L461.23,51.48 L461.59,52.18 L461.94,52.88 L462.30,53.58 L462.64,54.26 L462.96,54.90 L463.25,55.49 L463.50,56.00 L463.63,56.27 L463.76,56.50 L463.87,56.71 L463.98,56.91 L464.09,57.10 L464.19,57.29 L464.29,57.49 L464.39,57.70 L464.49,57.93 L464.59,58.20 L464.70,58.50 L464.94,59.28 L465.19,60.20 L465.43,61.23 L465.67,62.36 L465.92,63.56 L466.17,64.83 L466.43,66.13 L466.69,67.44 L466.95,68.76 L467.22,70.05 L467.50,71.30 L467.82,72.67 L468.16,74.06 L468.52,75.47 L468.88,76.89 L469.25,78.32 L469.62,79.77 L469.98,81.22 L470.34,82.67 L470.68,84.12 L471.00,85.56 L471.30,87.00 L471.58,88.42 L471.83,89.84 L472.08,91.25 L472.31,92.67 L472.53,94.08 L472.74,95.50 L472.95,96.93 L473.16,98.36 L473.37,99.80 L473.58,101.24 L473.80,102.70 L474.03,104.25 L474.27,105.83 L474.50,107.42 L474.73,109.03 L474.96,110.64 L475.19,112.26 L475.42,113.85 L475.65,115.44 L475.87,116.99 L476.09,118.52 L476.30,120.00 L476.48,121.26 L476.67,122.51 L476.85,123.74 L477.02,124.96 L477.20,126.17 L477.38,127.36 L477.55,128.53 L477.72,129.68 L477.88,130.81 L478.04,131.91 L478.20,133.00 L478.33,133.88 L478.45,134.74 L478.57,135.59 L478.69,136.42 L478.80,137.23 L478.92,138.04 L479.03,138.84 L479.15,139.63 L479.26,140.42 L479.38,141.21 L479.50,142.00 L479.62,142.75 L479.73,143.48 L479.85,144.22 L479.96,144.94 L480.08,145.67 L480.20,146.39 L480.32,147.11 L480.44,147.83 L480.56,148.55 L480.68,149.27 L480.80,150.00 L480.92,150.73 L481.04,151.47 L481.16,152.22 L481.28,152.96 L481.40,153.71 L481.53,154.45 L481.65,155.18 L481.78,155.91 L481.92,156.62 L482.06,157.32 L482.20,158.00 L482.33,158.58 L482.47,159.16 L482.60,159.72 L482.75,160.28 L482.89,160.82 L483.04,161.37 L483.18,161.90 L483.34,162.43 L483.49,162.96 L483.64,163.48 L483.80,164.00 L483.94,164.48 L484.09,164.95 L484.24,165.41 L484.38,165.88 L484.53,166.33 L484.69,166.79 L484.84,167.24 L485.00,167.68 L485.16,168.13 L485.33,168.57 L485.50,169.00 L485.67,169.41 L485.83,169.83 L486.00,170.24 L486.17,170.66 L486.35,171.06 L486.52,171.47 L486.71,171.86 L486.90,172.24 L487.09,172.61 L487.29,172.96 L487.50,173.30 L487.68,173.58 L487.87,173.87 L488.06,174.16 L488.25,174.46 L488.45,174.73 L488.66,175.00 L488.86,175.23 L489.07,175.44 L489.28,175.61 L489.49,175.73 L489.70,175.80 L489.88,175.82 L490.06,175.80 L490.24,175.76 L490.43,175.69 L490.62,175.60 L490.80,175.49 L490.99,175.37 L491.17,175.24 L491.35,175.10 L491.53,174.95 L491.70,174.80 L491.91,174.59 L492.12,174.36 L492.32,174.10 L492.51,173.83 L492.70,173.54 L492.88,173.23 L493.06,172.92 L493.25,172.59 L493.43,172.26 L493.61,171.93 L493.80,171.60 L494.03,171.19 L494.26,170.77 L494.49,170.34 L494.72,169.89 L494.95,169.43 L495.18,168.97 L495.41,168.50 L495.63,168.02 L495.86,167.55 L496.08,167.07 L496.30,166.60 L496.53,166.11 L496.75,165.61 L496.97,165.11 L497.20,164.60 L497.41,164.09 L497.63,163.58 L497.85,163.07 L498.06,162.56 L498.28,162.04 L498.49,161.52 L498.70,161.00 L498.92,160.47 L499.13,159.93 L499.35,159.40 L499.56,158.86 L499.77,158.32 L499.98,157.78 L500.19,157.23 L500.39,156.68 L500.60,156.13 L500.80,155.57 L501.00,155.00 L501.21,154.39 L501.42,153.78 L501.63,153.16 L501.83,152.54 L502.03,151.91 L502.23,151.28 L502.43,150.64 L502.62,149.99 L502.82,149.34 L503.01,148.67 L503.20,148.00 L503.41,147.23 L503.62,146.45 L503.83,145.66 L504.03,144.86 L504.23,144.04 L504.43,143.22 L504.63,142.39 L504.82,141.56 L505.02,140.71 L505.21,139.86 L505.40,139.00 L505.61,138.05 L505.81,137.08 L506.02,136.11 L506.22,135.12 L506.42,134.13 L506.61,133.13 L506.81,132.12 L507.01,131.10 L507.20,130.07 L507.40,129.04 L507.60,128.00 L507.82,126.86 L508.04,125.72 L508.25,124.56 L508.47,123.39 L508.69,122.22 L508.91,121.03 L509.13,119.84 L509.34,118.64 L509.56,117.44 L509.78,116.22 L510.00,115.00 L510.24,113.68 L510.47,112.34 L510.71,110.99 L510.94,109.63 L511.18,108.26 L511.42,106.88 L511.65,105.50 L511.89,104.12 L512.13,102.74 L512.36,101.37 L512.60,100.00 L512.83,98.62 L513.07,97.23 L513.30,95.82 L513.53,94.40 L513.76,92.99 L513.99,91.59 L514.23,90.21 L514.46,88.85 L514.70,87.52 L514.95,86.24 L515.20,85.00 L515.41,84.04 L515.63,83.11 L515.86,82.21 L516.08,81.33 L516.31,80.46 L516.54,79.61 L516.77,78.76 L516.99,77.91 L517.20,77.06 L517.41,76.19 L517.60,75.30 L517.78,74.36 L517.94,73.39 L518.09,72.41 L518.24,71.41 L518.37,70.41 L518.51,69.42 L518.65,68.46 L518.79,67.52 L518.95,66.63 L519.11,65.78 L519.30,65.00 L519.44,64.51 L519.58,64.05 L519.72,63.63 L519.87,63.24 L520.02,62.85 L520.18,62.47 L520.34,62.09 L520.50,61.69 L520.66,61.26 L520.83,60.80 L521.00,60.30 L521.28,59.41 L521.58,58.41 L521.89,57.32 L522.21,56.17 L522.54,54.98 L522.87,53.79 L523.20,52.60 L523.52,51.46 L523.83,50.38 L524.13,49.38 L524.40,48.50 L524.56,48.01 L524.70,47.55 L524.83,47.11 L524.96,46.70 L525.09,46.30 L525.22,45.92 L525.35,45.54 L525.49,45.16 L525.64,44.79 L525.81,44.40 L526.00,44.00 L526.22,43.55 L526.46,43.09 L526.71,42.64 L526.97,42.18 L527.24,41.72 L527.52,41.27 L527.81,40.82 L528.12,40.37 L528.43,39.94 L528.76,39.51 L529.10,39.10 L529.47,38.67 L529.87,38.23 L530.28,37.79 L530.71,37.36 L531.15,36.93 L531.60,36.52 L532.05,36.14 L532.50,35.77 L532.95,35.44 L533.38,35.15 L533.80,34.90 L534.10,34.75 L534.39,34.62 L534.68,34.51 L534.96,34.41 L535.25,34.33 L535.53,34.26 L535.82,34.20 L536.10,34.15 L536.40,34.10 L536.70,34.05 L537.00,34.00 L537.33,33.95 L537.64,33.91 L537.95,33.88 L538.26,33.86 L538.58,33.85 L538.90,33.84 L539.25,33.83 L539.61,33.83 L540.01,33.82 L540.43,33.81 L540.90,33.80 L542.08,33.77 L543.43,33.75 L544.93,33.74 L546.57,33.73 L548.32,33.72 L550.16,33.71 L552.07,33.71 L554.03,33.71 L556.02,33.71 L558.02,33.70 L560.00,33.70 L562.65,33.69 L565.43,33.69 L568.31,33.69 L571.28,33.69 L574.31,33.69 L577.39,33.69 L580.50,33.69 L583.62,33.70 L586.72,33.70 L589.79,33.70 L592.80,33.70" fill="none" stroke="#111" stroke-width="1.75" stroke-linejoin="round" stroke-linecap="round"/>
<g stroke="#1a1a1a" stroke-width="1.2">
<rect x="39.40" y="18.40" width="246.20" height="198.80" fill="none" stroke="#1a1a1a" stroke-width="1.3"/>
<line x1="38.90" y1="217.20" x2="38.90" y2="220.80"/>
<text x="38.90" y="231.6" class="tl xt" text-anchor="middle">100</text>
<line x1="55.38" y1="217.20" x2="55.38" y2="219.00"/>
<line x1="71.85" y1="217.20" x2="71.85" y2="220.80"/>
<text x="71.85" y="231.6" class="tl xt" text-anchor="middle">200</text>
<line x1="88.33" y1="217.20" x2="88.33" y2="219.00"/>
<line x1="104.80" y1="217.20" x2="104.80" y2="220.80"/>
<text x="104.80" y="231.6" class="tl xt" text-anchor="middle">300</text>
<line x1="121.28" y1="217.20" x2="121.28" y2="219.00"/>
<line x1="137.75" y1="217.20" x2="137.75" y2="220.80"/>
<text x="137.75" y="231.6" class="tl xt" text-anchor="middle">400</text>
<line x1="154.22" y1="217.20" x2="154.22" y2="219.00"/>
<line x1="170.70" y1="217.20" x2="170.70" y2="220.80"/>
<text x="170.70" y="231.6" class="tl xt" text-anchor="middle">500</text>
<line x1="187.18" y1="217.20" x2="187.18" y2="219.00"/>
<line x1="203.65" y1="217.20" x2="203.65" y2="220.80"/>
<text x="203.65" y="231.6" class="tl xt" text-anchor="middle">600</text>
<line x1="220.12" y1="217.20" x2="220.12" y2="219.00"/>
<line x1="236.60" y1="217.20" x2="236.60" y2="220.80"/>
<text x="236.60" y="231.6" class="tl xt" text-anchor="middle">700</text>
<line x1="253.08" y1="217.20" x2="253.08" y2="219.00"/>
<line x1="269.55" y1="217.20" x2="269.55" y2="220.80"/>
<text x="269.55" y="231.6" class="tl xt" text-anchor="middle">800</text>
<line x1="286.02" y1="217.20" x2="286.02" y2="219.00"/>
<line x1="39.40" y1="217.20" x2="35.60" y2="217.20"/>
<text x="33.2" y="220.80" class="tl" text-anchor="end">0</text>
<line x1="39.40" y1="198.24" x2="37.60" y2="198.24"/>
<line x1="39.40" y1="179.28" x2="35.60" y2="179.28"/>
<text x="33.2" y="182.88" class="tl" text-anchor="end">20</text>
<line x1="39.40" y1="160.32" x2="37.60" y2="160.32"/>
<line x1="39.40" y1="141.36" x2="35.60" y2="141.36"/>
<text x="33.2" y="144.96" class="tl" text-anchor="end">40</text>
<line x1="39.40" y1="122.40" x2="37.60" y2="122.40"/>
<line x1="39.40" y1="103.44" x2="35.60" y2="103.44"/>
<text x="33.2" y="107.04" class="tl" text-anchor="end">60</text>
<line x1="39.40" y1="84.48" x2="37.60" y2="84.48"/>
<line x1="39.40" y1="65.52" x2="35.60" y2="65.52"/>
<text x="33.2" y="69.12" class="tl" text-anchor="end">80</text>
<line x1="39.40" y1="46.56" x2="37.60" y2="46.56"/>
<line x1="39.40" y1="27.60" x2="35.60" y2="27.60"/>
<text x="33.2" y="31.20" class="tl" text-anchor="end">100</text>
<rect x="345.40" y="17.00" width="247.40" height="199.80" fill="none" stroke="#1a1a1a" stroke-width="1.3"/>
<line x1="345.30" y1="216.80" x2="345.30" y2="220.40"/>
<text x="345.30" y="231.6" class="tl xt" text-anchor="middle">100</text>
<line x1="362.97" y1="216.80" x2="362.97" y2="218.60"/>
<line x1="380.64" y1="216.80" x2="380.64" y2="220.40"/>
<text x="380.64" y="231.6" class="tl xt" text-anchor="middle">200</text>
<line x1="398.31" y1="216.80" x2="398.31" y2="218.60"/>
<line x1="415.98" y1="216.80" x2="415.98" y2="220.40"/>
<text x="415.98" y="231.6" class="tl xt" text-anchor="middle">300</text>
<line x1="433.65" y1="216.80" x2="433.65" y2="218.60"/>
<line x1="451.32" y1="216.80" x2="451.32" y2="220.40"/>
<text x="451.32" y="231.6" class="tl xt" text-anchor="middle">400</text>
<line x1="468.99" y1="216.80" x2="468.99" y2="218.60"/>
<line x1="486.66" y1="216.80" x2="486.66" y2="220.40"/>
<text x="486.66" y="231.6" class="tl xt" text-anchor="middle">500</text>
<line x1="504.33" y1="216.80" x2="504.33" y2="218.60"/>
<line x1="522.00" y1="216.80" x2="522.00" y2="220.40"/>
<text x="522.00" y="231.6" class="tl xt" text-anchor="middle">600</text>
<line x1="539.67" y1="216.80" x2="539.67" y2="218.60"/>
<line x1="557.34" y1="216.80" x2="557.34" y2="220.40"/>
<text x="557.34" y="231.6" class="tl xt" text-anchor="middle">700</text>
<line x1="575.01" y1="216.80" x2="575.01" y2="218.60"/>
<line x1="592.68" y1="216.80" x2="592.68" y2="220.40"/>
<text x="592.68" y="231.6" class="tl xt" text-anchor="middle">800</text>
<line x1="345.40" y1="16.94" x2="343.60" y2="16.94"/>
<line x1="345.40" y1="33.60" x2="341.60" y2="33.60"/>
<text x="339.2" y="37.20" class="tl" text-anchor="end">0</text>
<line x1="345.40" y1="50.26" x2="343.60" y2="50.26"/>
<line x1="345.40" y1="66.92" x2="341.60" y2="66.92"/>
<text x="339.2" y="70.52" class="tl" text-anchor="end">-2</text>
<line x1="345.40" y1="83.58" x2="343.60" y2="83.58"/>
<line x1="345.40" y1="100.24" x2="341.60" y2="100.24"/>
<text x="339.2" y="103.84" class="tl" text-anchor="end">-4</text>
<line x1="345.40" y1="116.90" x2="343.60" y2="116.90"/>
<line x1="345.40" y1="133.56" x2="341.60" y2="133.56"/>
<text x="339.2" y="137.16" class="tl" text-anchor="end">-6</text>
<line x1="345.40" y1="150.22" x2="343.60" y2="150.22"/>
<line x1="345.40" y1="166.88" x2="341.60" y2="166.88"/>
<text x="339.2" y="170.48" class="tl" text-anchor="end">-8</text>
<line x1="345.40" y1="183.54" x2="343.60" y2="183.54"/>
<line x1="345.40" y1="200.20" x2="341.60" y2="200.20"/>
<text x="339.2" y="203.80" class="tl" text-anchor="end">-10</text>
<line x1="345.40" y1="216.86" x2="343.60" y2="216.86"/>
</g>
<line x1="52.6" y1="158.90" x2="72" y2="158.90" stroke="#111" stroke-width="1.7"/>
<text x="73.6" y="162.10" class="lg">SR</text>
<line x1="52.6" y1="169.40" x2="72" y2="169.40" stroke="#ff0000" stroke-width="1.7"/>
<text x="73.6" y="172.60" class="lg">5</text>
<text x="85.80" y="172.60" class="lg" textLength="17.80" lengthAdjust="spacingAndGlyphs">vol%</text>
<text x="108.6" y="172.60" class="lg" textLength="61.6" lengthAdjust="spacingAndGlyphs">m-BN@SRP/SR</text>
<line x1="52.6" y1="179.80" x2="72" y2="179.80" stroke="#00e000" stroke-width="1.7"/>
<text x="73.6" y="183.00" class="lg">10</text>
<text x="88.00" y="183.00" class="lg" textLength="17.80" lengthAdjust="spacingAndGlyphs">vol%</text>
<text x="108.6" y="183.00" class="lg" textLength="61.6" lengthAdjust="spacingAndGlyphs">m-BN@SRP/SR</text>
<line x1="52.6" y1="190.10" x2="72" y2="190.10" stroke="#0000f0" stroke-width="1.7"/>
<text x="73.6" y="193.30" class="lg">15</text>
<text x="88.00" y="193.30" class="lg" textLength="17.80" lengthAdjust="spacingAndGlyphs">vol%</text>
<text x="108.6" y="193.30" class="lg" textLength="61.6" lengthAdjust="spacingAndGlyphs">m-BN@SRP/SR</text>
<line x1="52.6" y1="200.40" x2="72" y2="200.40" stroke="#00f4f4" stroke-width="1.7"/>
<text x="73.6" y="203.60" class="lg">20</text>
<text x="88.00" y="203.60" class="lg" textLength="17.80" lengthAdjust="spacingAndGlyphs">vol%</text>
<text x="108.6" y="203.60" class="lg" textLength="61.6" lengthAdjust="spacingAndGlyphs">m-BN@SRP/SR</text>
<line x1="355.4" y1="149.80" x2="375.8" y2="149.80" stroke="#ff0000" stroke-width="1.8"/>
<text x="377.8" y="153.30" class="lr">5</text>
<text x="386.6" y="153.30" class="lr" textLength="16.8" lengthAdjust="spacingAndGlyphs">vol%</text>
<text x="408.2" y="153.30" class="lr" textLength="56.4" lengthAdjust="spacingAndGlyphs">m-BN@SRP/SR</text>
<line x1="355.4" y1="160.40" x2="375.8" y2="160.40" stroke="#00e000" stroke-width="1.8"/>
<text x="377.8" y="163.90" class="lr" textLength="86.6" lengthAdjust="spacingAndGlyphs">10 vol% m-BN@SRP/SR</text>
<line x1="355.4" y1="170.60" x2="375.8" y2="170.60" stroke="#0000f0" stroke-width="1.8"/>
<text x="377.8" y="174.10" class="lr" textLength="86.6" lengthAdjust="spacingAndGlyphs">15 vol% m-BN@SRP/SR</text>
<line x1="355.4" y1="181.20" x2="375.8" y2="181.20" stroke="#00f4f4" stroke-width="1.8"/>
<text x="377.8" y="184.70" class="lr" textLength="86.6" lengthAdjust="spacingAndGlyphs">20 vol% m-BN@SRP/SR</text>
<line x1="355.4" y1="191.60" x2="375.8" y2="191.60" stroke="#111" stroke-width="1.8"/>
<text x="377.8" y="195.10" class="lr">SR</text>
<g transform="translate(0,251.60)"><text x="107.20" y="0" class="ax" textLength="75.2" lengthAdjust="spacingAndGlyphs">Temperature</text><text x="185.67" y="0" class="ax">(</text><path d="M201.14,-6.75 A3.70,4.00 0 1 0 201.14,-2.05" fill="none" stroke="#222" stroke-width="1.05"/><circle cx="192.40" cy="-8.10" r="0.75" fill="none" stroke="#333" stroke-width="0.9"/><text x="204.02" y="0" class="ax">)</text></g>
<g transform="translate(0,248.50)"><text x="414.70" y="0" class="ax" textLength="75.2" lengthAdjust="spacingAndGlyphs">Temperature</text><text x="492.87" y="0" class="ax">(</text><path d="M508.34,-6.75 A3.70,4.00 0 1 0 508.34,-2.05" fill="none" stroke="#222" stroke-width="1.05"/><circle cx="499.60" cy="-8.10" r="0.75" fill="none" stroke="#333" stroke-width="0.9"/><text x="511.22" y="0" class="ax">)</text></g>
<g transform="translate(11,164.9) rotate(-90)"><text x="-1.07" y="0" class="ax" style="font-size:13.2px" textLength="107.42" lengthAdjust="spacingAndGlyphs">Rasidual Mass(%)</text></g>
<g transform="translate(319.9,196.6) rotate(-90)"><text x="-1.07" y="0" class="ax" textLength="150.27" lengthAdjust="spacingAndGlyphs">Derivi.Weight Change(%/</text><path d="M158.14,-6.75 A3.70,4.00 0 1 0 158.14,-2.05" fill="none" stroke="#222" stroke-width="1.05"/><circle cx="149.40" cy="-8.10" r="0.75" fill="none" stroke="#333" stroke-width="0.9"/><text x="159.72" y="0" class="ax">)</text></g>
<text y="12.5" class="pl"><tspan x="17.2" class="pp">(</tspan><tspan x="22.7" class="pa">a</tspan><tspan x="32.9" class="pp">)</tspan></text>
<text y="12.5" class="pl"><tspan x="322.8" class="pp">(</tspan><tspan x="328.3" class="pa">b</tspan><tspan x="338.2" class="pp">)</tspan></text>
</svg>
</body></html>
